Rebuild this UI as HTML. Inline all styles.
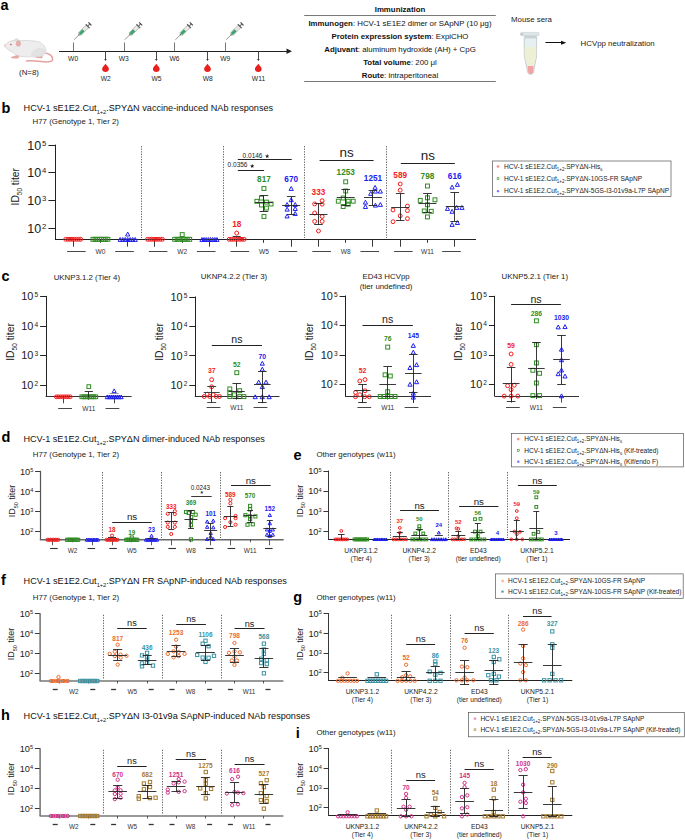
<!DOCTYPE html>
<html><head><meta charset="utf-8"><style>
html,body{margin:0;padding:0;background:#fff;}
svg{display:block;}
text{font-family:"Liberation Sans", sans-serif;}
</style></head><body>
<svg width="685" height="840" viewBox="0 0 685 840" font-family='"Liberation Sans", sans-serif'>
<rect width="685" height="840" fill="#fff"/>
<text x="0.60" y="10.40" font-size="14.5" font-weight="bold" fill="#000">a</text>
<g>
<path d="M43.5,52.5 C49,53.5 52.8,56 52.6,59.3 C52.4,62.3 47,62.2 41,61.4 C35,60.7 30.5,60.3 26.5,60.9" fill="none" stroke="#e2a3a0" stroke-width="1.5" stroke-linecap="round"/>
<path d="M32.5,54.8 C34,57.6 37.5,58.6 42,58.3 C43.2,57.4 42.6,55.4 40.4,54.6 Z" fill="#e5a9a5"/>
<path d="M4.5,45.6 C6,43.6 9,41.4 12.5,40.6 C15,40 17,40.2 19,40.8 C24,40.3 31,40.3 37.5,41.5 C42.5,42.8 45.6,46.5 45.8,50.5 C46,54.2 43,56.4 38,56.6 C32,56.9 25,57 19.5,56.3 C16.5,55.8 14.5,54 13,52.3 C10.5,51.2 8,49.8 6.5,48.2 C5.3,47.3 4.6,46.5 4.5,45.6 Z" fill="#ededed" stroke="#c9c9c9" stroke-width="0.6"/>
<path d="M31,55.8 C31.5,51 36,47.6 41.5,47.8 C44,48.6 45.6,50 45.8,51.5 C45.5,54.8 42.5,56.4 38,56.6 C35,56.7 32.5,56.6 31,55.8 Z" fill="#e2e2e2"/>
<path d="M11,57.2 C12.8,56 15.5,55.4 17.5,55.2 L19,55.8 L18.6,58.2 C16,58.7 13,58.6 11.2,58 Z" fill="#e5a9a5"/>
<ellipse cx="16.6" cy="39.9" rx="1.8" ry="1.5" fill="#e2e2e2" stroke="#cccccc" stroke-width="0.4"/>
<ellipse cx="18.4" cy="43.5" rx="2.2" ry="2.8" fill="#e7afac" stroke="#d39a97" stroke-width="0.4"/>
<circle cx="10.9" cy="44.5" r="0.75" fill="#cc3b3b"/>
<path d="M4.8,45.2 L3.6,41.8 M5.2,45.4 L2.6,44.0" stroke="#e4e4e4" stroke-width="0.35"/>
<circle cx="4.9" cy="45.7" r="0.7" fill="#e8b0ad"/>
</g>
<text x="29.00" y="74.50" font-size="7.9" text-anchor="middle" fill="#222">(N=8)</text>
<line x1="59.00" y1="51.50" x2="288.00" y2="51.50" stroke="#222" stroke-width="1.2"/>
<path d="M286.5,48.5 L292,51.2 L286.5,53.9 Z" fill="#222"/>
<line x1="73.50" y1="42.50" x2="73.50" y2="51.20" stroke="#777" stroke-width="1.0"/>
<text x="73.10" y="60.80" font-size="6.7" text-anchor="middle" fill="#222">W0</text>
<g transform="translate(74.10,39.7) rotate(-45)"><line x1="0" y1="0" x2="7" y2="0" stroke="#555" stroke-width="0.6"/><rect x="6.6" y="-0.9" width="1.4" height="1.8" fill="#777"/><rect x="7.8" y="-1.8" width="11" height="3.6" fill="#e8e8e8" stroke="#8a8a8a" stroke-width="0.5"/><rect x="8.1" y="-1.5" width="5.2" height="3" fill="#3aa56e"/><rect x="18.6" y="-2.7" width="1.1" height="5.4" fill="#555"/><rect x="19.6" y="-0.5" width="2.4" height="1" fill="#666"/><rect x="21.8" y="-2.1" width="1.2" height="4.2" fill="#444"/></g>
<line x1="124.50" y1="42.50" x2="124.50" y2="51.20" stroke="#777" stroke-width="1.0"/>
<text x="123.80" y="60.80" font-size="6.7" text-anchor="middle" fill="#222">W3</text>
<g transform="translate(124.80,39.7) rotate(-45)"><line x1="0" y1="0" x2="7" y2="0" stroke="#555" stroke-width="0.6"/><rect x="6.6" y="-0.9" width="1.4" height="1.8" fill="#777"/><rect x="7.8" y="-1.8" width="11" height="3.6" fill="#e8e8e8" stroke="#8a8a8a" stroke-width="0.5"/><rect x="8.1" y="-1.5" width="5.2" height="3" fill="#3aa56e"/><rect x="18.6" y="-2.7" width="1.1" height="5.4" fill="#555"/><rect x="19.6" y="-0.5" width="2.4" height="1" fill="#666"/><rect x="21.8" y="-2.1" width="1.2" height="4.2" fill="#444"/></g>
<line x1="174.50" y1="42.50" x2="174.50" y2="51.20" stroke="#777" stroke-width="1.0"/>
<text x="174.50" y="60.80" font-size="6.7" text-anchor="middle" fill="#222">W6</text>
<g transform="translate(175.50,39.7) rotate(-45)"><line x1="0" y1="0" x2="7" y2="0" stroke="#555" stroke-width="0.6"/><rect x="6.6" y="-0.9" width="1.4" height="1.8" fill="#777"/><rect x="7.8" y="-1.8" width="11" height="3.6" fill="#e8e8e8" stroke="#8a8a8a" stroke-width="0.5"/><rect x="8.1" y="-1.5" width="5.2" height="3" fill="#3aa56e"/><rect x="18.6" y="-2.7" width="1.1" height="5.4" fill="#555"/><rect x="19.6" y="-0.5" width="2.4" height="1" fill="#666"/><rect x="21.8" y="-2.1" width="1.2" height="4.2" fill="#444"/></g>
<line x1="225.50" y1="42.50" x2="225.50" y2="51.20" stroke="#777" stroke-width="1.0"/>
<text x="225.20" y="60.80" font-size="6.7" text-anchor="middle" fill="#222">W9</text>
<g transform="translate(226.20,39.7) rotate(-45)"><line x1="0" y1="0" x2="7" y2="0" stroke="#555" stroke-width="0.6"/><rect x="6.6" y="-0.9" width="1.4" height="1.8" fill="#777"/><rect x="7.8" y="-1.8" width="11" height="3.6" fill="#e8e8e8" stroke="#8a8a8a" stroke-width="0.5"/><rect x="8.1" y="-1.5" width="5.2" height="3" fill="#3aa56e"/><rect x="18.6" y="-2.7" width="1.1" height="5.4" fill="#555"/><rect x="19.6" y="-0.5" width="2.4" height="1" fill="#666"/><rect x="21.8" y="-2.1" width="1.2" height="4.2" fill="#444"/></g>
<line x1="105.50" y1="51.20" x2="105.50" y2="59.50" stroke="#333" stroke-width="0.9"/>
<path d="M104.20,59 L105.50,61 L106.80,59 Z" fill="#333"/>
<path d="M105.50,63.8 C107.00,66 108.90,67.5 108.90,69 C108.90,71 107.30,71.9 105.50,71.9 C103.70,71.9 102.10,71 102.10,69 C102.10,67.5 104.00,66 105.50,63.8 Z" fill="#e8201e"/>
<text x="105.70" y="81.00" font-size="6.7" text-anchor="middle" fill="#222">W2</text>
<line x1="156.50" y1="51.20" x2="156.50" y2="59.50" stroke="#333" stroke-width="0.9"/>
<path d="M155.00,59 L156.30,61 L157.60,59 Z" fill="#333"/>
<path d="M156.30,63.8 C157.80,66 159.70,67.5 159.70,69 C159.70,71 158.10,71.9 156.30,71.9 C154.50,71.9 152.90,71 152.90,69 C152.90,67.5 154.80,66 156.30,63.8 Z" fill="#e8201e"/>
<text x="156.50" y="81.00" font-size="6.7" text-anchor="middle" fill="#222">W5</text>
<line x1="207.50" y1="51.20" x2="207.50" y2="59.50" stroke="#333" stroke-width="0.9"/>
<path d="M206.20,59 L207.50,61 L208.80,59 Z" fill="#333"/>
<path d="M207.50,63.8 C209.00,66 210.90,67.5 210.90,69 C210.90,71 209.30,71.9 207.50,71.9 C205.70,71.9 204.10,71 204.10,69 C204.10,67.5 206.00,66 207.50,63.8 Z" fill="#e8201e"/>
<text x="207.70" y="81.00" font-size="6.7" text-anchor="middle" fill="#222">W8</text>
<line x1="258.50" y1="51.20" x2="258.50" y2="59.50" stroke="#333" stroke-width="0.9"/>
<path d="M257.00,59 L258.30,61 L259.60,59 Z" fill="#333"/>
<path d="M258.30,63.8 C259.80,66 261.70,67.5 261.70,69 C261.70,71 260.10,71.9 258.30,71.9 C256.50,71.9 254.90,71 254.90,69 C254.90,67.5 256.80,66 258.30,63.8 Z" fill="#e8201e"/>
<text x="258.50" y="81.00" font-size="6.7" text-anchor="middle" fill="#222">W11</text>
<line x1="304.20" y1="15.50" x2="495.80" y2="15.50" stroke="#555" stroke-width="0.8"/>
<line x1="304.20" y1="81.50" x2="495.80" y2="81.50" stroke="#555" stroke-width="0.8"/>
<text x="400.00" y="12.00" font-size="7.85" text-anchor="middle" fill="#111"><tspan font-weight="bold">Immunization</tspan></text>
<text x="400.00" y="25.50" font-size="7.85" text-anchor="middle" fill="#111"><tspan font-weight="bold">Immunogen</tspan>: HCV-1 sE1E2 dimer or SApNP (10 μg)</text>
<text x="400.00" y="38.70" font-size="7.85" text-anchor="middle" fill="#111"><tspan font-weight="bold">Protein expression system</tspan>: ExpiCHO</text>
<text x="400.00" y="51.80" font-size="7.85" text-anchor="middle" fill="#111"><tspan font-weight="bold">Adjuvant</tspan>: aluminum hydroxide (AH) + CpG</text>
<text x="400.00" y="65.00" font-size="7.85" text-anchor="middle" fill="#111"><tspan font-weight="bold">Total volume</tspan>: 200 μl</text>
<text x="400.00" y="78.10" font-size="7.85" text-anchor="middle" fill="#111"><tspan font-weight="bold">Route</tspan>: intraperitoneal</text>
<text x="511.00" y="22.20" font-size="7.85" fill="#222">Mouse sera</text>
<path d="M524.2,37.5 L536.7,37.5 L536.6,56 L533.4,72.6 C532.6,75 528.6,75 527.8,72.6 L524.3,56 Z" fill="#e6eff1" stroke="#a9b3b6" stroke-width="0.6"/>
<path d="M524.6,47 L536.3,47 L536.2,56 L533.7,66.2 L527.6,66.2 L524.7,56 Z" fill="#eef0d6"/>
<path d="M527.7,66.1 L533.6,66.1 L533.1,72.5 C532.4,74.4 528.9,74.4 528.2,72.5 Z" fill="#f2a3a3"/>
<rect x="524.2" y="35.6" width="12.5" height="2.8" fill="#c9d2d5"/>
<path d="M521.2,32.4 L538.6,32.4 C539.2,32.4 539.2,35.7 538.6,35.7 L521.2,35.7 C520.4,35.7 520.4,32.4 521.2,32.4 Z" fill="#dfe6e8" stroke="#b4bec1" stroke-width="0.4"/>
<ellipse cx="521.8" cy="34.2" rx="1.6" ry="1.1" fill="#c2cacc"/>
<line x1="545.40" y1="42.50" x2="562.00" y2="42.50" stroke="#111" stroke-width="1.0"/>
<path d="M561,40.7 L566.3,42.7 L561,44.7 Z" fill="#111"/>
<text x="580.60" y="46.00" font-size="7.85" fill="#222">HCVpp neutralization</text>
<text x="1.40" y="113.00" font-size="14.5" font-weight="bold" fill="#000">b</text>
<text x="23.60" y="111.20" font-size="9.15" fill="#111">HCV-1 sE1E2.Cut<tspan font-size="5.67" dy="2.75">1+2</tspan><tspan dy="-2.75">.SPYΔN vaccine-induced NAb responses</tspan></text>
<text x="32.60" y="123.90" font-size="7.85" fill="#222">H77 (Genotype 1, Tier 2)</text>
<line x1="48.40" y1="145.50" x2="55.40" y2="145.50" stroke="#222" stroke-width="1.0"/>
<text x="46.40" y="149.54" font-size="12.5" text-anchor="end" fill="#1a1a1a">10<tspan font-size="7.7" dx="1.0" dy="-3.75">5</tspan></text>
<line x1="48.40" y1="172.50" x2="55.40" y2="172.50" stroke="#222" stroke-width="1.0"/>
<text x="46.40" y="177.20" font-size="12.5" text-anchor="end" fill="#1a1a1a">10<tspan font-size="7.7" dx="1.0" dy="-3.75">4</tspan></text>
<line x1="48.40" y1="200.50" x2="55.40" y2="200.50" stroke="#222" stroke-width="1.0"/>
<text x="46.40" y="204.87" font-size="12.5" text-anchor="end" fill="#1a1a1a">10<tspan font-size="7.7" dx="1.0" dy="-3.75">3</tspan></text>
<line x1="48.40" y1="228.50" x2="55.40" y2="228.50" stroke="#222" stroke-width="1.0"/>
<text x="46.40" y="232.54" font-size="12.5" text-anchor="end" fill="#1a1a1a">10<tspan font-size="7.7" dx="1.0" dy="-3.75">2</tspan></text>
<text transform="translate(19.10,186.75) rotate(-90)" font-size="10.3" text-anchor="middle" fill="#1a1a1a">ID<tspan font-size="6.39" dy="2.88">50</tspan><tspan dy="-2.88"> titer</tspan></text>
<line x1="55.50" y1="144.60" x2="55.50" y2="239.30" stroke="#222" stroke-width="1.0"/>
<line x1="54.90" y1="239.50" x2="476.00" y2="239.50" stroke="#222" stroke-width="1.0"/>
<line x1="141.50" y1="146.00" x2="141.50" y2="238.00" stroke="#666" stroke-width="1.0" stroke-dasharray="1.3,1.3"/>
<line x1="223.50" y1="146.00" x2="223.50" y2="238.00" stroke="#666" stroke-width="1.0" stroke-dasharray="1.3,1.3"/>
<line x1="304.50" y1="146.00" x2="304.50" y2="238.00" stroke="#666" stroke-width="1.0" stroke-dasharray="1.3,1.3"/>
<line x1="386.50" y1="146.00" x2="386.50" y2="238.00" stroke="#666" stroke-width="1.0" stroke-dasharray="1.3,1.3"/>
<line x1="73.50" y1="239.30" x2="73.50" y2="246.70" stroke="#222" stroke-width="0.9"/>
<line x1="100.50" y1="239.30" x2="100.50" y2="242.80" stroke="#222" stroke-width="0.9"/>
<line x1="127.50" y1="239.30" x2="127.50" y2="246.70" stroke="#222" stroke-width="0.9"/>
<line x1="154.50" y1="239.30" x2="154.50" y2="246.70" stroke="#222" stroke-width="0.9"/>
<line x1="182.50" y1="239.30" x2="182.50" y2="242.80" stroke="#222" stroke-width="0.9"/>
<line x1="209.50" y1="239.30" x2="209.50" y2="246.70" stroke="#222" stroke-width="0.9"/>
<line x1="236.50" y1="239.30" x2="236.50" y2="246.70" stroke="#222" stroke-width="0.9"/>
<line x1="263.50" y1="239.30" x2="263.50" y2="242.80" stroke="#222" stroke-width="0.9"/>
<line x1="291.50" y1="239.30" x2="291.50" y2="246.70" stroke="#222" stroke-width="0.9"/>
<line x1="318.50" y1="239.30" x2="318.50" y2="246.70" stroke="#222" stroke-width="0.9"/>
<line x1="345.50" y1="239.30" x2="345.50" y2="242.80" stroke="#222" stroke-width="0.9"/>
<line x1="372.50" y1="239.30" x2="372.50" y2="246.70" stroke="#222" stroke-width="0.9"/>
<line x1="400.50" y1="239.30" x2="400.50" y2="246.70" stroke="#222" stroke-width="0.9"/>
<line x1="427.50" y1="239.30" x2="427.50" y2="242.80" stroke="#222" stroke-width="0.9"/>
<line x1="454.50" y1="239.30" x2="454.50" y2="246.70" stroke="#222" stroke-width="0.9"/>
<line x1="67.10" y1="251.50" x2="85.70" y2="251.50" stroke="#333" stroke-width="0.9"/>
<text x="100.45" y="253.88" font-size="6.6" text-anchor="middle" fill="#333">W0</text>
<line x1="115.20" y1="251.50" x2="133.80" y2="251.50" stroke="#333" stroke-width="0.9"/>
<line x1="148.85" y1="251.50" x2="167.45" y2="251.50" stroke="#333" stroke-width="0.9"/>
<text x="182.20" y="253.88" font-size="6.6" text-anchor="middle" fill="#333">W2</text>
<line x1="196.95" y1="251.50" x2="215.55" y2="251.50" stroke="#333" stroke-width="0.9"/>
<line x1="230.60" y1="251.50" x2="249.20" y2="251.50" stroke="#333" stroke-width="0.9"/>
<text x="263.95" y="253.88" font-size="6.6" text-anchor="middle" fill="#333">W5</text>
<line x1="278.70" y1="251.50" x2="297.30" y2="251.50" stroke="#333" stroke-width="0.9"/>
<line x1="312.35" y1="251.50" x2="330.95" y2="251.50" stroke="#333" stroke-width="0.9"/>
<text x="345.70" y="253.88" font-size="6.6" text-anchor="middle" fill="#333">W8</text>
<line x1="360.45" y1="251.50" x2="379.05" y2="251.50" stroke="#333" stroke-width="0.9"/>
<line x1="394.10" y1="251.50" x2="412.70" y2="251.50" stroke="#333" stroke-width="0.9"/>
<text x="427.45" y="253.88" font-size="6.6" text-anchor="middle" fill="#333">W11</text>
<line x1="442.20" y1="251.50" x2="460.80" y2="251.50" stroke="#333" stroke-width="0.9"/>
<circle cx="65.70" cy="239.30" r="1.95" fill="none" stroke="#f41c1c" stroke-width="1.0"/>
<circle cx="67.84" cy="239.30" r="1.95" fill="none" stroke="#f41c1c" stroke-width="1.0"/>
<circle cx="69.99" cy="239.30" r="1.95" fill="none" stroke="#f41c1c" stroke-width="1.0"/>
<circle cx="72.13" cy="239.30" r="1.95" fill="none" stroke="#f41c1c" stroke-width="1.0"/>
<circle cx="74.27" cy="239.30" r="1.95" fill="none" stroke="#f41c1c" stroke-width="1.0"/>
<circle cx="76.41" cy="239.30" r="1.95" fill="none" stroke="#f41c1c" stroke-width="1.0"/>
<circle cx="78.56" cy="239.30" r="1.95" fill="none" stroke="#f41c1c" stroke-width="1.0"/>
<circle cx="80.70" cy="239.30" r="1.95" fill="none" stroke="#f41c1c" stroke-width="1.0"/>
<rect x="91.00" y="237.35" width="3.90" height="3.90" fill="none" stroke="#2f8c22" stroke-width="1.0"/>
<rect x="93.14" y="237.35" width="3.90" height="3.90" fill="none" stroke="#2f8c22" stroke-width="1.0"/>
<rect x="95.29" y="237.35" width="3.90" height="3.90" fill="none" stroke="#2f8c22" stroke-width="1.0"/>
<rect x="97.43" y="237.35" width="3.90" height="3.90" fill="none" stroke="#2f8c22" stroke-width="1.0"/>
<rect x="99.57" y="237.35" width="3.90" height="3.90" fill="none" stroke="#2f8c22" stroke-width="1.0"/>
<rect x="101.71" y="237.35" width="3.90" height="3.90" fill="none" stroke="#2f8c22" stroke-width="1.0"/>
<rect x="103.86" y="237.35" width="3.90" height="3.90" fill="none" stroke="#2f8c22" stroke-width="1.0"/>
<rect x="106.00" y="237.35" width="3.90" height="3.90" fill="none" stroke="#2f8c22" stroke-width="1.0"/>
<path d="M120.20,237.50 L122.30,241.38 L118.10,241.38 Z" fill="none" stroke="#2020f0" stroke-width="1.0" stroke-linejoin="miter"/>
<path d="M122.70,237.50 L124.80,241.38 L120.60,241.38 Z" fill="none" stroke="#2020f0" stroke-width="1.0" stroke-linejoin="miter"/>
<path d="M125.20,237.50 L127.30,241.38 L123.10,241.38 Z" fill="none" stroke="#2020f0" stroke-width="1.0" stroke-linejoin="miter"/>
<path d="M127.70,237.50 L129.80,241.38 L125.60,241.38 Z" fill="none" stroke="#2020f0" stroke-width="1.0" stroke-linejoin="miter"/>
<path d="M130.20,237.50 L132.30,241.38 L128.10,241.38 Z" fill="none" stroke="#2020f0" stroke-width="1.0" stroke-linejoin="miter"/>
<path d="M132.70,237.50 L134.80,241.38 L130.60,241.38 Z" fill="none" stroke="#2020f0" stroke-width="1.0" stroke-linejoin="miter"/>
<path d="M135.20,237.50 L137.30,241.38 L133.10,241.38 Z" fill="none" stroke="#2020f0" stroke-width="1.0" stroke-linejoin="miter"/>
<path d="M127.70,232.09 L129.80,235.98 L125.60,235.98 Z" fill="none" stroke="#2020f0" stroke-width="1.0" stroke-linejoin="miter"/>
<circle cx="147.45" cy="239.30" r="1.95" fill="none" stroke="#f41c1c" stroke-width="1.0"/>
<circle cx="149.59" cy="239.30" r="1.95" fill="none" stroke="#f41c1c" stroke-width="1.0"/>
<circle cx="151.74" cy="239.30" r="1.95" fill="none" stroke="#f41c1c" stroke-width="1.0"/>
<circle cx="153.88" cy="239.30" r="1.95" fill="none" stroke="#f41c1c" stroke-width="1.0"/>
<circle cx="156.02" cy="239.30" r="1.95" fill="none" stroke="#f41c1c" stroke-width="1.0"/>
<circle cx="158.16" cy="239.30" r="1.95" fill="none" stroke="#f41c1c" stroke-width="1.0"/>
<circle cx="160.31" cy="239.30" r="1.95" fill="none" stroke="#f41c1c" stroke-width="1.0"/>
<circle cx="162.45" cy="239.30" r="1.95" fill="none" stroke="#f41c1c" stroke-width="1.0"/>
<rect x="172.75" y="237.35" width="3.90" height="3.90" fill="none" stroke="#2f8c22" stroke-width="1.0"/>
<rect x="175.25" y="237.35" width="3.90" height="3.90" fill="none" stroke="#2f8c22" stroke-width="1.0"/>
<rect x="177.75" y="237.35" width="3.90" height="3.90" fill="none" stroke="#2f8c22" stroke-width="1.0"/>
<rect x="180.25" y="237.35" width="3.90" height="3.90" fill="none" stroke="#2f8c22" stroke-width="1.0"/>
<rect x="182.75" y="237.35" width="3.90" height="3.90" fill="none" stroke="#2f8c22" stroke-width="1.0"/>
<rect x="185.25" y="237.35" width="3.90" height="3.90" fill="none" stroke="#2f8c22" stroke-width="1.0"/>
<rect x="187.75" y="237.35" width="3.90" height="3.90" fill="none" stroke="#2f8c22" stroke-width="1.0"/>
<rect x="180.25" y="232.65" width="3.90" height="3.90" fill="none" stroke="#2f8c22" stroke-width="1.0"/>
<path d="M201.95,237.50 L204.05,241.38 L199.85,241.38 Z" fill="none" stroke="#2020f0" stroke-width="1.0" stroke-linejoin="miter"/>
<path d="M204.09,237.50 L206.19,241.38 L201.99,241.38 Z" fill="none" stroke="#2020f0" stroke-width="1.0" stroke-linejoin="miter"/>
<path d="M206.24,237.50 L208.34,241.38 L204.14,241.38 Z" fill="none" stroke="#2020f0" stroke-width="1.0" stroke-linejoin="miter"/>
<path d="M208.38,237.50 L210.48,241.38 L206.28,241.38 Z" fill="none" stroke="#2020f0" stroke-width="1.0" stroke-linejoin="miter"/>
<path d="M210.52,237.50 L212.62,241.38 L208.42,241.38 Z" fill="none" stroke="#2020f0" stroke-width="1.0" stroke-linejoin="miter"/>
<path d="M212.66,237.50 L214.76,241.38 L210.56,241.38 Z" fill="none" stroke="#2020f0" stroke-width="1.0" stroke-linejoin="miter"/>
<path d="M214.81,237.50 L216.91,241.38 L212.71,241.38 Z" fill="none" stroke="#2020f0" stroke-width="1.0" stroke-linejoin="miter"/>
<path d="M216.95,237.50 L219.05,241.38 L214.85,241.38 Z" fill="none" stroke="#2020f0" stroke-width="1.0" stroke-linejoin="miter"/>
<circle cx="229.20" cy="239.30" r="1.95" fill="none" stroke="#f41c1c" stroke-width="1.0"/>
<circle cx="231.34" cy="239.30" r="1.95" fill="none" stroke="#f41c1c" stroke-width="1.0"/>
<circle cx="233.49" cy="239.30" r="1.95" fill="none" stroke="#f41c1c" stroke-width="1.0"/>
<circle cx="235.63" cy="239.30" r="1.95" fill="none" stroke="#f41c1c" stroke-width="1.0"/>
<circle cx="237.77" cy="239.30" r="1.95" fill="none" stroke="#f41c1c" stroke-width="1.0"/>
<circle cx="239.91" cy="239.30" r="1.95" fill="none" stroke="#f41c1c" stroke-width="1.0"/>
<circle cx="242.06" cy="239.30" r="1.95" fill="none" stroke="#f41c1c" stroke-width="1.0"/>
<circle cx="244.20" cy="239.30" r="1.95" fill="none" stroke="#f41c1c" stroke-width="1.0"/>
<circle cx="236.70" cy="233.10" r="1.95" fill="none" stroke="#f41c1c" stroke-width="1.0"/>
<line x1="232.70" y1="236.50" x2="240.70" y2="236.50" stroke="#222" stroke-width="0.9"/>
<text x="236.70" y="226.95" font-size="8.2" font-weight="bold" text-anchor="middle" fill="#f41c1c">18</text>
<rect x="262.00" y="186.55" width="3.90" height="3.90" fill="none" stroke="#2f8c22" stroke-width="1.0"/>
<rect x="254.90" y="199.35" width="3.90" height="3.90" fill="none" stroke="#2f8c22" stroke-width="1.0"/>
<rect x="259.50" y="196.15" width="3.90" height="3.90" fill="none" stroke="#2f8c22" stroke-width="1.0"/>
<rect x="264.50" y="200.15" width="3.90" height="3.90" fill="none" stroke="#2f8c22" stroke-width="1.0"/>
<rect x="259.50" y="203.05" width="3.90" height="3.90" fill="none" stroke="#2f8c22" stroke-width="1.0"/>
<rect x="264.50" y="206.15" width="3.90" height="3.90" fill="none" stroke="#2f8c22" stroke-width="1.0"/>
<rect x="269.10" y="202.05" width="3.90" height="3.90" fill="none" stroke="#2f8c22" stroke-width="1.0"/>
<rect x="262.00" y="214.55" width="3.90" height="3.90" fill="none" stroke="#2f8c22" stroke-width="1.0"/>
<line x1="254.95" y1="202.50" x2="272.95" y2="202.50" stroke="#222" stroke-width="0.9"/>
<line x1="263.50" y1="195.40" x2="263.50" y2="211.30" stroke="#222" stroke-width="0.9"/>
<line x1="259.65" y1="195.50" x2="268.25" y2="195.50" stroke="#222" stroke-width="0.9"/>
<line x1="259.65" y1="211.50" x2="268.25" y2="211.50" stroke="#222" stroke-width="0.9"/>
<text x="263.95" y="181.75" font-size="8.2" font-weight="bold" text-anchor="middle" fill="#2f8c22">817</text>
<path d="M291.20,186.54 L293.30,190.43 L289.10,190.43 Z" fill="none" stroke="#2020f0" stroke-width="1.0" stroke-linejoin="miter"/>
<path d="M291.20,197.79 L293.30,201.68 L289.10,201.68 Z" fill="none" stroke="#2020f0" stroke-width="1.0" stroke-linejoin="miter"/>
<path d="M287.10,202.54 L289.20,206.43 L285.00,206.43 Z" fill="none" stroke="#2020f0" stroke-width="1.0" stroke-linejoin="miter"/>
<path d="M295.20,202.54 L297.30,206.43 L293.10,206.43 Z" fill="none" stroke="#2020f0" stroke-width="1.0" stroke-linejoin="miter"/>
<path d="M287.10,207.19 L289.20,211.08 L285.00,211.08 Z" fill="none" stroke="#2020f0" stroke-width="1.0" stroke-linejoin="miter"/>
<path d="M295.20,206.54 L297.30,210.43 L293.10,210.43 Z" fill="none" stroke="#2020f0" stroke-width="1.0" stroke-linejoin="miter"/>
<path d="M287.10,214.04 L289.20,217.93 L285.00,217.93 Z" fill="none" stroke="#2020f0" stroke-width="1.0" stroke-linejoin="miter"/>
<path d="M295.20,211.54 L297.30,215.43 L293.10,215.43 Z" fill="none" stroke="#2020f0" stroke-width="1.0" stroke-linejoin="miter"/>
<line x1="282.20" y1="205.50" x2="300.20" y2="205.50" stroke="#222" stroke-width="0.9"/>
<line x1="291.50" y1="196.90" x2="291.50" y2="214.40" stroke="#222" stroke-width="0.9"/>
<line x1="286.90" y1="196.50" x2="295.50" y2="196.50" stroke="#222" stroke-width="0.9"/>
<line x1="286.90" y1="214.50" x2="295.50" y2="214.50" stroke="#222" stroke-width="0.9"/>
<text x="291.20" y="181.75" font-size="8.2" font-weight="bold" text-anchor="middle" fill="#2020f0">670</text>
<circle cx="322.15" cy="200.70" r="1.95" fill="none" stroke="#f41c1c" stroke-width="1.0"/>
<circle cx="314.65" cy="203.90" r="1.95" fill="none" stroke="#f41c1c" stroke-width="1.0"/>
<circle cx="322.15" cy="204.20" r="1.95" fill="none" stroke="#f41c1c" stroke-width="1.0"/>
<circle cx="314.65" cy="213.00" r="1.95" fill="none" stroke="#f41c1c" stroke-width="1.0"/>
<circle cx="322.15" cy="216.50" r="1.95" fill="none" stroke="#f41c1c" stroke-width="1.0"/>
<circle cx="314.65" cy="221.40" r="1.95" fill="none" stroke="#f41c1c" stroke-width="1.0"/>
<circle cx="322.15" cy="221.40" r="1.95" fill="none" stroke="#f41c1c" stroke-width="1.0"/>
<circle cx="318.45" cy="231.00" r="1.95" fill="none" stroke="#f41c1c" stroke-width="1.0"/>
<line x1="309.45" y1="214.50" x2="327.45" y2="214.50" stroke="#222" stroke-width="0.9"/>
<line x1="318.50" y1="203.30" x2="318.50" y2="224.90" stroke="#222" stroke-width="0.9"/>
<line x1="314.15" y1="203.50" x2="322.75" y2="203.50" stroke="#222" stroke-width="0.9"/>
<line x1="314.15" y1="224.50" x2="322.75" y2="224.50" stroke="#222" stroke-width="0.9"/>
<text x="318.45" y="195.45" font-size="8.2" font-weight="bold" text-anchor="middle" fill="#f41c1c">333</text>
<rect x="343.75" y="179.85" width="3.90" height="3.90" fill="none" stroke="#2f8c22" stroke-width="1.0"/>
<rect x="343.75" y="189.05" width="3.90" height="3.90" fill="none" stroke="#2f8c22" stroke-width="1.0"/>
<rect x="336.35" y="199.25" width="3.90" height="3.90" fill="none" stroke="#2f8c22" stroke-width="1.0"/>
<rect x="341.25" y="196.05" width="3.90" height="3.90" fill="none" stroke="#2f8c22" stroke-width="1.0"/>
<rect x="346.25" y="199.25" width="3.90" height="3.90" fill="none" stroke="#2f8c22" stroke-width="1.0"/>
<rect x="351.25" y="199.25" width="3.90" height="3.90" fill="none" stroke="#2f8c22" stroke-width="1.0"/>
<rect x="341.25" y="204.55" width="3.90" height="3.90" fill="none" stroke="#2f8c22" stroke-width="1.0"/>
<rect x="346.25" y="202.25" width="3.90" height="3.90" fill="none" stroke="#2f8c22" stroke-width="1.0"/>
<line x1="336.70" y1="197.50" x2="354.70" y2="197.50" stroke="#222" stroke-width="0.9"/>
<line x1="345.50" y1="189.80" x2="345.50" y2="205.50" stroke="#222" stroke-width="0.9"/>
<line x1="341.40" y1="189.50" x2="350.00" y2="189.50" stroke="#222" stroke-width="0.9"/>
<line x1="341.40" y1="205.50" x2="350.00" y2="205.50" stroke="#222" stroke-width="0.9"/>
<text x="345.70" y="175.25" font-size="8.2" font-weight="bold" text-anchor="middle" fill="#2f8c22">1253</text>
<path d="M375.05,185.39 L377.15,189.28 L372.95,189.28 Z" fill="none" stroke="#2020f0" stroke-width="1.0" stroke-linejoin="miter"/>
<path d="M370.75,191.49 L372.85,195.38 L368.65,195.38 Z" fill="none" stroke="#2020f0" stroke-width="1.0" stroke-linejoin="miter"/>
<path d="M380.35,189.19 L382.45,193.08 L378.25,193.08 Z" fill="none" stroke="#2020f0" stroke-width="1.0" stroke-linejoin="miter"/>
<path d="M375.45,189.19 L377.55,193.08 L373.35,193.08 Z" fill="none" stroke="#2020f0" stroke-width="1.0" stroke-linejoin="miter"/>
<path d="M365.45,200.19 L367.55,204.08 L363.35,204.08 Z" fill="none" stroke="#2020f0" stroke-width="1.0" stroke-linejoin="miter"/>
<path d="M365.45,204.59 L367.55,208.48 L363.35,208.48 Z" fill="none" stroke="#2020f0" stroke-width="1.0" stroke-linejoin="miter"/>
<path d="M375.45,203.19 L377.55,207.08 L373.35,207.08 Z" fill="none" stroke="#2020f0" stroke-width="1.0" stroke-linejoin="miter"/>
<path d="M380.35,202.49 L382.45,206.38 L378.25,206.38 Z" fill="none" stroke="#2020f0" stroke-width="1.0" stroke-linejoin="miter"/>
<line x1="363.95" y1="197.50" x2="381.95" y2="197.50" stroke="#222" stroke-width="0.9"/>
<line x1="372.50" y1="190.70" x2="372.50" y2="205.40" stroke="#222" stroke-width="0.9"/>
<line x1="368.65" y1="190.50" x2="377.25" y2="190.50" stroke="#222" stroke-width="0.9"/>
<line x1="368.65" y1="205.50" x2="377.25" y2="205.50" stroke="#222" stroke-width="0.9"/>
<text x="372.95" y="180.85" font-size="8.2" font-weight="bold" text-anchor="middle" fill="#2020f0">1251</text>
<circle cx="400.20" cy="184.00" r="1.95" fill="none" stroke="#f41c1c" stroke-width="1.0"/>
<circle cx="400.20" cy="190.20" r="1.95" fill="none" stroke="#f41c1c" stroke-width="1.0"/>
<circle cx="407.40" cy="206.10" r="1.95" fill="none" stroke="#f41c1c" stroke-width="1.0"/>
<circle cx="393.00" cy="210.00" r="1.95" fill="none" stroke="#f41c1c" stroke-width="1.0"/>
<circle cx="407.40" cy="210.60" r="1.95" fill="none" stroke="#f41c1c" stroke-width="1.0"/>
<circle cx="400.20" cy="215.80" r="1.95" fill="none" stroke="#f41c1c" stroke-width="1.0"/>
<circle cx="393.00" cy="221.70" r="1.95" fill="none" stroke="#f41c1c" stroke-width="1.0"/>
<circle cx="407.40" cy="218.60" r="1.95" fill="none" stroke="#f41c1c" stroke-width="1.0"/>
<line x1="391.20" y1="207.50" x2="409.20" y2="207.50" stroke="#222" stroke-width="0.9"/>
<line x1="400.50" y1="193.60" x2="400.50" y2="220.10" stroke="#222" stroke-width="0.9"/>
<line x1="395.90" y1="193.50" x2="404.50" y2="193.50" stroke="#222" stroke-width="0.9"/>
<line x1="395.90" y1="220.50" x2="404.50" y2="220.50" stroke="#222" stroke-width="0.9"/>
<text x="400.20" y="178.45" font-size="8.2" font-weight="bold" text-anchor="middle" fill="#f41c1c">589</text>
<rect x="425.50" y="184.05" width="3.90" height="3.90" fill="none" stroke="#2f8c22" stroke-width="1.0"/>
<rect x="418.30" y="198.45" width="3.90" height="3.90" fill="none" stroke="#2f8c22" stroke-width="1.0"/>
<rect x="433.00" y="197.85" width="3.90" height="3.90" fill="none" stroke="#2f8c22" stroke-width="1.0"/>
<rect x="425.50" y="195.85" width="3.90" height="3.90" fill="none" stroke="#2f8c22" stroke-width="1.0"/>
<rect x="425.50" y="202.85" width="3.90" height="3.90" fill="none" stroke="#2f8c22" stroke-width="1.0"/>
<rect x="422.30" y="209.05" width="3.90" height="3.90" fill="none" stroke="#2f8c22" stroke-width="1.0"/>
<rect x="429.30" y="209.35" width="3.90" height="3.90" fill="none" stroke="#2f8c22" stroke-width="1.0"/>
<rect x="425.50" y="214.95" width="3.90" height="3.90" fill="none" stroke="#2f8c22" stroke-width="1.0"/>
<line x1="418.45" y1="203.50" x2="436.45" y2="203.50" stroke="#222" stroke-width="0.9"/>
<line x1="427.50" y1="193.90" x2="427.50" y2="212.70" stroke="#222" stroke-width="0.9"/>
<line x1="423.15" y1="193.50" x2="431.75" y2="193.50" stroke="#222" stroke-width="0.9"/>
<line x1="423.15" y1="212.50" x2="431.75" y2="212.50" stroke="#222" stroke-width="0.9"/>
<text x="427.45" y="179.05" font-size="8.2" font-weight="bold" text-anchor="middle" fill="#2f8c22">798</text>
<path d="M452.10,185.09 L454.20,188.98 L450.00,188.98 Z" fill="none" stroke="#2020f0" stroke-width="1.0" stroke-linejoin="miter"/>
<path d="M457.40,182.49 L459.50,186.38 L455.30,186.38 Z" fill="none" stroke="#2020f0" stroke-width="1.0" stroke-linejoin="miter"/>
<path d="M447.50,206.49 L449.60,210.38 L445.40,210.38 Z" fill="none" stroke="#2020f0" stroke-width="1.0" stroke-linejoin="miter"/>
<path d="M452.10,209.39 L454.20,213.28 L450.00,213.28 Z" fill="none" stroke="#2020f0" stroke-width="1.0" stroke-linejoin="miter"/>
<path d="M456.70,205.49 L458.80,209.38 L454.60,209.38 Z" fill="none" stroke="#2020f0" stroke-width="1.0" stroke-linejoin="miter"/>
<path d="M462.00,205.49 L464.10,209.38 L459.90,209.38 Z" fill="none" stroke="#2020f0" stroke-width="1.0" stroke-linejoin="miter"/>
<path d="M452.10,222.49 L454.20,226.38 L450.00,226.38 Z" fill="none" stroke="#2020f0" stroke-width="1.0" stroke-linejoin="miter"/>
<path d="M457.40,220.59 L459.50,224.48 L455.30,224.48 Z" fill="none" stroke="#2020f0" stroke-width="1.0" stroke-linejoin="miter"/>
<line x1="445.70" y1="206.50" x2="463.70" y2="206.50" stroke="#222" stroke-width="0.9"/>
<line x1="454.50" y1="192.30" x2="454.50" y2="221.20" stroke="#222" stroke-width="0.9"/>
<line x1="450.40" y1="192.50" x2="459.00" y2="192.50" stroke="#222" stroke-width="0.9"/>
<line x1="450.40" y1="221.50" x2="459.00" y2="221.50" stroke="#222" stroke-width="0.9"/>
<text x="454.70" y="179.45" font-size="8.2" font-weight="bold" text-anchor="middle" fill="#2020f0">616</text>
<line x1="237.80" y1="159.50" x2="291.70" y2="159.50" stroke="#222" stroke-width="1.0"/>
<text x="242.60" y="157.70" font-size="6.5" fill="#222">0.0146</text>
<polygon points="267.20,154.10 267.78,155.50 269.29,155.62 268.14,156.61 268.49,158.08 267.20,157.29 265.91,158.08 266.26,156.61 265.11,155.62 266.62,155.50" fill="#222"/>
<line x1="237.80" y1="170.50" x2="264.10" y2="170.50" stroke="#222" stroke-width="1.0"/>
<text x="227.60" y="166.90" font-size="6.5" fill="#222">0.0356</text>
<polygon points="252.20,163.90 252.78,165.30 254.29,165.42 253.14,166.41 253.49,167.88 252.20,167.09 250.91,167.88 251.26,166.41 250.11,165.42 251.62,165.30" fill="#222"/>
<line x1="319.60" y1="160.50" x2="373.60" y2="160.50" stroke="#222" stroke-width="1.0"/>
<text x="346.60" y="157.40" font-size="13.5" text-anchor="middle" fill="#222">ns</text>
<line x1="400.80" y1="163.50" x2="454.90" y2="163.50" stroke="#222" stroke-width="1.0"/>
<text x="427.85" y="160.40" font-size="13.5" text-anchor="middle" fill="#222">ns</text>
<rect x="492.60" y="161.00" width="178.40" height="35.40" fill="none" stroke="#555" stroke-width="0.7"/>
<circle cx="498.00" cy="166.50" r="0.88" fill="none" stroke="#f41c1c" stroke-width="0.6"/>
<text x="504.00" y="168.88" font-size="6.6" fill="#222">HCV-1 sE1E2.Cut<tspan font-size="4.49" dy="1.98">1+2</tspan><tspan dy="-1.98">.SPYΔN-His<tspan font-size="4.1" dy="1.9">6</tspan></tspan></text>
<rect x="497.12" y="177.72" width="1.75" height="1.75" fill="none" stroke="#2f8c22" stroke-width="0.6"/>
<text x="504.00" y="180.98" font-size="6.6" fill="#222">HCV-1 sE1E2.Cut<tspan font-size="4.49" dy="1.98">1+2</tspan><tspan dy="-1.98">.SPYΔN-10GS-FR SApNP</tspan></text>
<path d="M498.00,190.01 L498.94,191.76 L497.06,191.76 Z" fill="none" stroke="#2020f0" stroke-width="0.6" stroke-linejoin="miter"/>
<text x="504.00" y="193.38" font-size="6.6" fill="#222">HCV-1 sE1E2.Cut<tspan font-size="4.49" dy="1.98">1+2</tspan><tspan dy="-1.98">.SPYΔN-5GS-I3-01v9a-L7P SApNP</tspan></text>
<text x="1.60" y="281.00" font-size="14.5" font-weight="bold" fill="#000">c</text>
<line x1="40.10" y1="296.50" x2="46.10" y2="296.50" stroke="#222" stroke-width="1.0"/>
<text x="38.10" y="300.27" font-size="10.9" text-anchor="end" fill="#1a1a1a">10<tspan font-size="6.6" dx="1.0" dy="-3.27">5</tspan></text>
<line x1="40.10" y1="326.50" x2="46.10" y2="326.50" stroke="#222" stroke-width="1.0"/>
<text x="38.10" y="329.87" font-size="10.9" text-anchor="end" fill="#1a1a1a">10<tspan font-size="6.6" dx="1.0" dy="-3.27">4</tspan></text>
<line x1="40.10" y1="355.50" x2="46.10" y2="355.50" stroke="#222" stroke-width="1.0"/>
<text x="38.10" y="359.47" font-size="10.9" text-anchor="end" fill="#1a1a1a">10<tspan font-size="6.6" dx="1.0" dy="-3.27">3</tspan></text>
<line x1="40.10" y1="385.50" x2="46.10" y2="385.50" stroke="#222" stroke-width="1.0"/>
<text x="38.10" y="389.07" font-size="10.9" text-anchor="end" fill="#1a1a1a">10<tspan font-size="6.6" dx="1.0" dy="-3.27">2</tspan></text>
<text transform="translate(13.60,341.90) rotate(-90)" font-size="10.4" text-anchor="middle" fill="#1a1a1a">ID<tspan font-size="6.45" dy="2.91">50</tspan><tspan dy="-2.91"> titer</tspan></text>
<line x1="46.50" y1="295.90" x2="46.50" y2="396.80" stroke="#222" stroke-width="1.0"/>
<line x1="45.60" y1="396.50" x2="131.60" y2="396.50" stroke="#333" stroke-width="1.0"/>
<text x="86.85" y="279.60" font-size="7.85" text-anchor="middle" fill="#222">UKNP3.1.2 (Tier 4)</text>
<line x1="63.50" y1="396.80" x2="63.50" y2="403.30" stroke="#333" stroke-width="0.9"/>
<line x1="88.50" y1="396.80" x2="88.50" y2="399.80" stroke="#333" stroke-width="0.9"/>
<line x1="114.50" y1="396.80" x2="114.50" y2="403.30" stroke="#333" stroke-width="0.9"/>
<circle cx="56.30" cy="396.80" r="1.85" fill="none" stroke="#f41c1c" stroke-width="1.0"/>
<circle cx="58.30" cy="396.80" r="1.85" fill="none" stroke="#f41c1c" stroke-width="1.0"/>
<circle cx="60.30" cy="396.80" r="1.85" fill="none" stroke="#f41c1c" stroke-width="1.0"/>
<circle cx="62.30" cy="396.80" r="1.85" fill="none" stroke="#f41c1c" stroke-width="1.0"/>
<circle cx="64.30" cy="396.80" r="1.85" fill="none" stroke="#f41c1c" stroke-width="1.0"/>
<circle cx="66.30" cy="396.80" r="1.85" fill="none" stroke="#f41c1c" stroke-width="1.0"/>
<circle cx="68.30" cy="396.80" r="1.85" fill="none" stroke="#f41c1c" stroke-width="1.0"/>
<circle cx="70.30" cy="396.80" r="1.85" fill="none" stroke="#f41c1c" stroke-width="1.0"/>
<rect x="79.95" y="394.95" width="3.70" height="3.70" fill="none" stroke="#2f8c22" stroke-width="1.0"/>
<rect x="81.95" y="394.95" width="3.70" height="3.70" fill="none" stroke="#2f8c22" stroke-width="1.0"/>
<rect x="83.95" y="394.95" width="3.70" height="3.70" fill="none" stroke="#2f8c22" stroke-width="1.0"/>
<rect x="85.95" y="394.95" width="3.70" height="3.70" fill="none" stroke="#2f8c22" stroke-width="1.0"/>
<rect x="87.95" y="394.95" width="3.70" height="3.70" fill="none" stroke="#2f8c22" stroke-width="1.0"/>
<rect x="89.95" y="394.95" width="3.70" height="3.70" fill="none" stroke="#2f8c22" stroke-width="1.0"/>
<rect x="91.95" y="394.95" width="3.70" height="3.70" fill="none" stroke="#2f8c22" stroke-width="1.0"/>
<rect x="93.95" y="394.95" width="3.70" height="3.70" fill="none" stroke="#2f8c22" stroke-width="1.0"/>
<rect x="86.95" y="384.75" width="3.70" height="3.70" fill="none" stroke="#2f8c22" stroke-width="1.0"/>
<line x1="84.70" y1="391.50" x2="92.90" y2="391.50" stroke="#222" stroke-width="0.9"/>
<line x1="88.50" y1="391.60" x2="88.50" y2="396.80" stroke="#222" stroke-width="0.9"/>
<line x1="88.80" y1="391.50" x2="88.80" y2="391.50" stroke="#222" stroke-width="0.9"/>
<line x1="88.80" y1="396.50" x2="88.80" y2="396.50" stroke="#222" stroke-width="0.9"/>
<path d="M107.20,395.01 L109.20,398.70 L105.20,398.70 Z" fill="none" stroke="#2020f0" stroke-width="1.0" stroke-linejoin="miter"/>
<path d="M109.20,395.01 L111.20,398.70 L107.20,398.70 Z" fill="none" stroke="#2020f0" stroke-width="1.0" stroke-linejoin="miter"/>
<path d="M111.20,395.01 L113.20,398.70 L109.20,398.70 Z" fill="none" stroke="#2020f0" stroke-width="1.0" stroke-linejoin="miter"/>
<path d="M113.20,395.01 L115.20,398.70 L111.20,398.70 Z" fill="none" stroke="#2020f0" stroke-width="1.0" stroke-linejoin="miter"/>
<path d="M115.20,395.01 L117.20,398.70 L113.20,398.70 Z" fill="none" stroke="#2020f0" stroke-width="1.0" stroke-linejoin="miter"/>
<path d="M117.20,395.01 L119.20,398.70 L115.20,398.70 Z" fill="none" stroke="#2020f0" stroke-width="1.0" stroke-linejoin="miter"/>
<path d="M119.20,395.01 L121.20,398.70 L117.20,398.70 Z" fill="none" stroke="#2020f0" stroke-width="1.0" stroke-linejoin="miter"/>
<path d="M121.20,395.01 L123.20,398.70 L119.20,398.70 Z" fill="none" stroke="#2020f0" stroke-width="1.0" stroke-linejoin="miter"/>
<path d="M114.20,388.91 L116.20,392.60 L112.20,392.60 Z" fill="none" stroke="#2020f0" stroke-width="1.0" stroke-linejoin="miter"/>
<line x1="109.70" y1="393.50" x2="118.70" y2="393.50" stroke="#888" stroke-width="0.9"/>
<line x1="58.20" y1="408.50" x2="72.00" y2="408.50" stroke="#333" stroke-width="0.9"/>
<text x="88.80" y="410.68" font-size="6.6" text-anchor="middle" fill="#333">W11</text>
<line x1="105.50" y1="408.50" x2="119.30" y2="408.50" stroke="#333" stroke-width="0.9"/>
<line x1="189.30" y1="297.50" x2="195.30" y2="297.50" stroke="#222" stroke-width="1.0"/>
<text x="187.30" y="300.87" font-size="10.9" text-anchor="end" fill="#1a1a1a">10<tspan font-size="6.6" dx="1.0" dy="-3.27">5</tspan></text>
<line x1="189.30" y1="326.50" x2="195.30" y2="326.50" stroke="#222" stroke-width="1.0"/>
<text x="187.30" y="330.27" font-size="10.9" text-anchor="end" fill="#1a1a1a">10<tspan font-size="6.6" dx="1.0" dy="-3.27">4</tspan></text>
<line x1="189.30" y1="355.50" x2="195.30" y2="355.50" stroke="#222" stroke-width="1.0"/>
<text x="187.30" y="359.67" font-size="10.9" text-anchor="end" fill="#1a1a1a">10<tspan font-size="6.6" dx="1.0" dy="-3.27">3</tspan></text>
<line x1="189.30" y1="385.50" x2="195.30" y2="385.50" stroke="#222" stroke-width="1.0"/>
<text x="187.30" y="389.07" font-size="10.9" text-anchor="end" fill="#1a1a1a">10<tspan font-size="6.6" dx="1.0" dy="-3.27">2</tspan></text>
<text transform="translate(162.80,341.90) rotate(-90)" font-size="10.4" text-anchor="middle" fill="#1a1a1a">ID<tspan font-size="6.45" dy="2.91">50</tspan><tspan dy="-2.91"> titer</tspan></text>
<line x1="195.50" y1="296.50" x2="195.50" y2="396.60" stroke="#222" stroke-width="1.0"/>
<line x1="194.80" y1="396.50" x2="279.50" y2="396.50" stroke="#333" stroke-width="1.0"/>
<text x="234.00" y="279.30" font-size="7.85" text-anchor="middle" fill="#222">UKNP4.2.2 (Tier 3)</text>
<line x1="211.50" y1="396.60" x2="211.50" y2="403.10" stroke="#333" stroke-width="0.9"/>
<line x1="236.50" y1="396.60" x2="236.50" y2="399.60" stroke="#333" stroke-width="0.9"/>
<line x1="262.50" y1="396.60" x2="262.50" y2="403.10" stroke="#333" stroke-width="0.9"/>
<circle cx="211.70" cy="379.70" r="1.95" fill="none" stroke="#f41c1c" stroke-width="1.0"/>
<circle cx="211.70" cy="386.80" r="1.95" fill="none" stroke="#f41c1c" stroke-width="1.0"/>
<circle cx="204.20" cy="396.50" r="1.95" fill="none" stroke="#f41c1c" stroke-width="1.0"/>
<circle cx="207.20" cy="394.20" r="1.95" fill="none" stroke="#f41c1c" stroke-width="1.0"/>
<circle cx="209.70" cy="396.50" r="1.95" fill="none" stroke="#f41c1c" stroke-width="1.0"/>
<circle cx="213.20" cy="394.60" r="1.95" fill="none" stroke="#f41c1c" stroke-width="1.0"/>
<circle cx="216.20" cy="396.50" r="1.95" fill="none" stroke="#f41c1c" stroke-width="1.0"/>
<circle cx="219.50" cy="396.50" r="1.95" fill="none" stroke="#f41c1c" stroke-width="1.0"/>
<line x1="203.70" y1="392.50" x2="219.70" y2="392.50" stroke="#333" stroke-width="0.9"/>
<line x1="211.50" y1="386.50" x2="211.50" y2="402.30" stroke="#333" stroke-width="0.9"/>
<line x1="207.20" y1="386.50" x2="216.20" y2="386.50" stroke="#333" stroke-width="0.9"/>
<line x1="207.20" y1="402.50" x2="216.20" y2="402.50" stroke="#333" stroke-width="0.9"/>
<text x="211.70" y="373.15" font-size="6.8" font-weight="bold" text-anchor="middle" fill="#f41c1c">37</text>
<rect x="234.85" y="370.75" width="3.90" height="3.90" fill="none" stroke="#2f8c22" stroke-width="1.0"/>
<rect x="227.85" y="386.95" width="3.90" height="3.90" fill="none" stroke="#2f8c22" stroke-width="1.0"/>
<rect x="227.85" y="390.85" width="3.90" height="3.90" fill="none" stroke="#2f8c22" stroke-width="1.0"/>
<rect x="227.85" y="394.65" width="3.90" height="3.90" fill="none" stroke="#2f8c22" stroke-width="1.0"/>
<rect x="232.45" y="392.85" width="3.90" height="3.90" fill="none" stroke="#2f8c22" stroke-width="1.0"/>
<rect x="237.75" y="388.75" width="3.90" height="3.90" fill="none" stroke="#2f8c22" stroke-width="1.0"/>
<rect x="237.75" y="394.65" width="3.90" height="3.90" fill="none" stroke="#2f8c22" stroke-width="1.0"/>
<rect x="241.95" y="394.65" width="3.90" height="3.90" fill="none" stroke="#2f8c22" stroke-width="1.0"/>
<line x1="228.80" y1="391.50" x2="244.80" y2="391.50" stroke="#222" stroke-width="0.9"/>
<line x1="236.50" y1="383.50" x2="236.50" y2="398.30" stroke="#222" stroke-width="0.9"/>
<line x1="232.50" y1="383.50" x2="241.10" y2="383.50" stroke="#222" stroke-width="0.9"/>
<line x1="232.50" y1="398.50" x2="241.10" y2="398.50" stroke="#222" stroke-width="0.9"/>
<text x="236.80" y="367.05" font-size="6.8" font-weight="bold" text-anchor="middle" fill="#2f8c22">52</text>
<path d="M262.30,361.30 L264.40,365.18 L260.20,365.18 Z" fill="none" stroke="#2020f0" stroke-width="1.0" stroke-linejoin="miter"/>
<path d="M262.30,367.19 L264.40,371.08 L260.20,371.08 Z" fill="none" stroke="#2020f0" stroke-width="1.0" stroke-linejoin="miter"/>
<path d="M258.70,380.10 L260.80,383.98 L256.60,383.98 Z" fill="none" stroke="#2020f0" stroke-width="1.0" stroke-linejoin="miter"/>
<path d="M266.00,380.10 L268.10,383.98 L263.90,383.98 Z" fill="none" stroke="#2020f0" stroke-width="1.0" stroke-linejoin="miter"/>
<path d="M262.30,384.69 L264.40,388.58 L260.20,388.58 Z" fill="none" stroke="#2020f0" stroke-width="1.0" stroke-linejoin="miter"/>
<path d="M255.20,394.80 L257.30,398.68 L253.10,398.68 Z" fill="none" stroke="#2020f0" stroke-width="1.0" stroke-linejoin="miter"/>
<path d="M262.30,394.80 L264.40,398.68 L260.20,398.68 Z" fill="none" stroke="#2020f0" stroke-width="1.0" stroke-linejoin="miter"/>
<path d="M269.20,394.80 L271.30,398.68 L267.10,398.68 Z" fill="none" stroke="#2020f0" stroke-width="1.0" stroke-linejoin="miter"/>
<line x1="254.00" y1="384.50" x2="270.60" y2="384.50" stroke="#222" stroke-width="0.9"/>
<line x1="262.50" y1="371.50" x2="262.50" y2="402.30" stroke="#222" stroke-width="0.9"/>
<line x1="258.00" y1="371.50" x2="266.60" y2="371.50" stroke="#222" stroke-width="0.9"/>
<line x1="258.00" y1="402.50" x2="266.60" y2="402.50" stroke="#222" stroke-width="0.9"/>
<text x="262.30" y="359.15" font-size="6.8" font-weight="bold" text-anchor="middle" fill="#2020f0">70</text>
<line x1="211.80" y1="345.50" x2="262.00" y2="345.50" stroke="#222" stroke-width="1.0"/>
<text x="236.90" y="343.40" font-size="10.6" text-anchor="middle" fill="#222">ns</text>
<line x1="206.60" y1="407.50" x2="220.40" y2="407.50" stroke="#333" stroke-width="0.9"/>
<text x="236.80" y="409.88" font-size="6.6" text-anchor="middle" fill="#333">W11</text>
<line x1="253.60" y1="407.50" x2="267.40" y2="407.50" stroke="#333" stroke-width="0.9"/>
<line x1="339.60" y1="296.50" x2="345.60" y2="296.50" stroke="#222" stroke-width="1.0"/>
<text x="337.60" y="299.87" font-size="10.9" text-anchor="end" fill="#1a1a1a">10<tspan font-size="6.6" dx="1.0" dy="-3.27">5</tspan></text>
<line x1="339.60" y1="325.50" x2="345.60" y2="325.50" stroke="#222" stroke-width="1.0"/>
<text x="337.60" y="329.40" font-size="10.9" text-anchor="end" fill="#1a1a1a">10<tspan font-size="6.6" dx="1.0" dy="-3.27">4</tspan></text>
<line x1="339.60" y1="355.50" x2="345.60" y2="355.50" stroke="#222" stroke-width="1.0"/>
<text x="337.60" y="358.94" font-size="10.9" text-anchor="end" fill="#1a1a1a">10<tspan font-size="6.6" dx="1.0" dy="-3.27">3</tspan></text>
<line x1="339.60" y1="384.50" x2="345.60" y2="384.50" stroke="#222" stroke-width="1.0"/>
<text x="337.60" y="388.47" font-size="10.9" text-anchor="end" fill="#1a1a1a">10<tspan font-size="6.6" dx="1.0" dy="-3.27">2</tspan></text>
<text transform="translate(313.10,341.90) rotate(-90)" font-size="10.4" text-anchor="middle" fill="#1a1a1a">ID<tspan font-size="6.45" dy="2.91">50</tspan><tspan dy="-2.91"> titer</tspan></text>
<line x1="345.50" y1="295.50" x2="345.50" y2="396.50" stroke="#222" stroke-width="1.0"/>
<line x1="345.10" y1="396.50" x2="431.00" y2="396.50" stroke="#333" stroke-width="1.0"/>
<text x="386.10" y="279.30" font-size="7.85" text-anchor="middle" fill="#222">ED43 HCVpp</text>
<text x="386.10" y="288.90" font-size="7.85" text-anchor="middle" fill="#222">(tier undefined)</text>
<line x1="362.50" y1="396.50" x2="362.50" y2="403.00" stroke="#333" stroke-width="0.9"/>
<line x1="387.50" y1="396.50" x2="387.50" y2="399.50" stroke="#333" stroke-width="0.9"/>
<line x1="413.50" y1="396.50" x2="413.50" y2="403.00" stroke="#333" stroke-width="0.9"/>
<circle cx="359.80" cy="381.00" r="1.95" fill="none" stroke="#f41c1c" stroke-width="1.0"/>
<circle cx="365.00" cy="379.60" r="1.95" fill="none" stroke="#f41c1c" stroke-width="1.0"/>
<circle cx="355.50" cy="392.50" r="1.95" fill="none" stroke="#f41c1c" stroke-width="1.0"/>
<circle cx="365.00" cy="390.80" r="1.95" fill="none" stroke="#f41c1c" stroke-width="1.0"/>
<circle cx="359.80" cy="394.70" r="1.95" fill="none" stroke="#f41c1c" stroke-width="1.0"/>
<circle cx="355.50" cy="396.70" r="1.95" fill="none" stroke="#f41c1c" stroke-width="1.0"/>
<circle cx="364.70" cy="396.70" r="1.95" fill="none" stroke="#f41c1c" stroke-width="1.0"/>
<circle cx="369.30" cy="396.70" r="1.95" fill="none" stroke="#f41c1c" stroke-width="1.0"/>
<line x1="354.50" y1="390.50" x2="370.50" y2="390.50" stroke="#222" stroke-width="0.9"/>
<line x1="362.50" y1="384.60" x2="362.50" y2="402.60" stroke="#222" stroke-width="0.9"/>
<line x1="358.20" y1="384.50" x2="366.80" y2="384.50" stroke="#222" stroke-width="0.9"/>
<line x1="358.20" y1="402.50" x2="366.80" y2="402.50" stroke="#222" stroke-width="0.9"/>
<text x="362.50" y="372.85" font-size="6.8" font-weight="bold" text-anchor="middle" fill="#f41c1c">52</text>
<rect x="385.75" y="345.15" width="3.90" height="3.90" fill="none" stroke="#2f8c22" stroke-width="1.0"/>
<rect x="383.15" y="372.85" width="3.90" height="3.90" fill="none" stroke="#2f8c22" stroke-width="1.0"/>
<rect x="388.35" y="374.05" width="3.90" height="3.90" fill="none" stroke="#2f8c22" stroke-width="1.0"/>
<rect x="385.75" y="389.75" width="3.90" height="3.90" fill="none" stroke="#2f8c22" stroke-width="1.0"/>
<rect x="378.25" y="394.55" width="3.90" height="3.90" fill="none" stroke="#2f8c22" stroke-width="1.0"/>
<rect x="382.05" y="394.55" width="3.90" height="3.90" fill="none" stroke="#2f8c22" stroke-width="1.0"/>
<rect x="385.75" y="394.55" width="3.90" height="3.90" fill="none" stroke="#2f8c22" stroke-width="1.0"/>
<rect x="389.45" y="394.55" width="3.90" height="3.90" fill="none" stroke="#2f8c22" stroke-width="1.0"/>
<rect x="393.05" y="394.55" width="3.90" height="3.90" fill="none" stroke="#2f8c22" stroke-width="1.0"/>
<line x1="379.40" y1="384.50" x2="396.00" y2="384.50" stroke="#222" stroke-width="0.9"/>
<line x1="387.50" y1="366.90" x2="387.50" y2="396.50" stroke="#222" stroke-width="0.9"/>
<line x1="383.40" y1="366.50" x2="392.00" y2="366.50" stroke="#222" stroke-width="0.9"/>
<line x1="383.40" y1="396.50" x2="392.00" y2="396.50" stroke="#222" stroke-width="0.9"/>
<text x="387.70" y="341.35" font-size="6.8" font-weight="bold" text-anchor="middle" fill="#2f8c22">76</text>
<path d="M413.30,343.50 L415.40,347.38 L411.20,347.38 Z" fill="none" stroke="#2020f0" stroke-width="1.0" stroke-linejoin="miter"/>
<path d="M413.30,350.19 L415.40,354.08 L411.20,354.08 Z" fill="none" stroke="#2020f0" stroke-width="1.0" stroke-linejoin="miter"/>
<path d="M410.00,365.60 L412.10,369.48 L407.90,369.48 Z" fill="none" stroke="#2020f0" stroke-width="1.0" stroke-linejoin="miter"/>
<path d="M416.60,362.69 L418.70,366.58 L414.50,366.58 Z" fill="none" stroke="#2020f0" stroke-width="1.0" stroke-linejoin="miter"/>
<path d="M410.00,382.30 L412.10,386.18 L407.90,386.18 Z" fill="none" stroke="#2020f0" stroke-width="1.0" stroke-linejoin="miter"/>
<path d="M416.60,379.80 L418.70,383.68 L414.50,383.68 Z" fill="none" stroke="#2020f0" stroke-width="1.0" stroke-linejoin="miter"/>
<path d="M413.30,391.19 L415.40,395.08 L411.20,395.08 Z" fill="none" stroke="#2020f0" stroke-width="1.0" stroke-linejoin="miter"/>
<path d="M413.30,395.19 L415.40,399.08 L411.20,399.08 Z" fill="none" stroke="#2020f0" stroke-width="1.0" stroke-linejoin="miter"/>
<line x1="405.00" y1="373.50" x2="421.60" y2="373.50" stroke="#222" stroke-width="0.9"/>
<line x1="413.50" y1="354.70" x2="413.50" y2="392.10" stroke="#222" stroke-width="0.9"/>
<line x1="409.00" y1="354.50" x2="417.60" y2="354.50" stroke="#222" stroke-width="0.9"/>
<line x1="409.00" y1="392.50" x2="417.60" y2="392.50" stroke="#222" stroke-width="0.9"/>
<text x="413.30" y="338.05" font-size="6.8" font-weight="bold" text-anchor="middle" fill="#2020f0">145</text>
<line x1="413.50" y1="392.10" x2="413.50" y2="402.60" stroke="#222" stroke-width="0.9"/>
<line x1="362.50" y1="325.50" x2="412.90" y2="325.50" stroke="#222" stroke-width="1.0"/>
<text x="387.70" y="322.90" font-size="10.6" text-anchor="middle" fill="#222">ns</text>
<line x1="357.40" y1="407.50" x2="371.20" y2="407.50" stroke="#333" stroke-width="0.9"/>
<text x="387.70" y="409.88" font-size="6.6" text-anchor="middle" fill="#333">W11</text>
<line x1="404.60" y1="407.50" x2="418.40" y2="407.50" stroke="#333" stroke-width="0.9"/>
<line x1="488.90" y1="296.50" x2="494.90" y2="296.50" stroke="#222" stroke-width="1.0"/>
<text x="486.90" y="300.17" font-size="10.9" text-anchor="end" fill="#1a1a1a">10<tspan font-size="6.6" dx="1.0" dy="-3.27">5</tspan></text>
<line x1="488.90" y1="325.50" x2="494.90" y2="325.50" stroke="#222" stroke-width="1.0"/>
<text x="486.90" y="329.60" font-size="10.9" text-anchor="end" fill="#1a1a1a">10<tspan font-size="6.6" dx="1.0" dy="-3.27">4</tspan></text>
<line x1="488.90" y1="355.50" x2="494.90" y2="355.50" stroke="#222" stroke-width="1.0"/>
<text x="486.90" y="359.04" font-size="10.9" text-anchor="end" fill="#1a1a1a">10<tspan font-size="6.6" dx="1.0" dy="-3.27">3</tspan></text>
<line x1="488.90" y1="384.50" x2="494.90" y2="384.50" stroke="#222" stroke-width="1.0"/>
<text x="486.90" y="388.47" font-size="10.9" text-anchor="end" fill="#1a1a1a">10<tspan font-size="6.6" dx="1.0" dy="-3.27">2</tspan></text>
<text transform="translate(462.40,341.90) rotate(-90)" font-size="10.4" text-anchor="middle" fill="#1a1a1a">ID<tspan font-size="6.45" dy="2.91">50</tspan><tspan dy="-2.91"> titer</tspan></text>
<line x1="494.50" y1="295.80" x2="494.50" y2="396.10" stroke="#222" stroke-width="1.0"/>
<line x1="494.40" y1="396.50" x2="579.00" y2="396.50" stroke="#333" stroke-width="1.0"/>
<text x="534.80" y="279.30" font-size="7.85" text-anchor="middle" fill="#222">UKNP5.2.1 (Tier 1)</text>
<line x1="511.50" y1="396.10" x2="511.50" y2="402.60" stroke="#333" stroke-width="0.9"/>
<line x1="536.50" y1="396.10" x2="536.50" y2="399.10" stroke="#333" stroke-width="0.9"/>
<line x1="561.50" y1="396.10" x2="561.50" y2="402.60" stroke="#333" stroke-width="0.9"/>
<circle cx="511.10" cy="354.00" r="1.95" fill="none" stroke="#f41c1c" stroke-width="1.0"/>
<circle cx="511.10" cy="364.40" r="1.95" fill="none" stroke="#f41c1c" stroke-width="1.0"/>
<circle cx="507.60" cy="385.70" r="1.95" fill="none" stroke="#f41c1c" stroke-width="1.0"/>
<circle cx="514.30" cy="385.20" r="1.95" fill="none" stroke="#f41c1c" stroke-width="1.0"/>
<circle cx="511.10" cy="389.70" r="1.95" fill="none" stroke="#f41c1c" stroke-width="1.0"/>
<circle cx="504.20" cy="396.10" r="1.95" fill="none" stroke="#f41c1c" stroke-width="1.0"/>
<circle cx="511.10" cy="396.10" r="1.95" fill="none" stroke="#f41c1c" stroke-width="1.0"/>
<circle cx="517.80" cy="396.10" r="1.95" fill="none" stroke="#f41c1c" stroke-width="1.0"/>
<line x1="502.70" y1="383.50" x2="519.50" y2="383.50" stroke="#222" stroke-width="0.9"/>
<line x1="511.50" y1="367.40" x2="511.50" y2="401.60" stroke="#222" stroke-width="0.9"/>
<line x1="506.80" y1="367.50" x2="515.40" y2="367.50" stroke="#222" stroke-width="0.9"/>
<line x1="506.80" y1="401.50" x2="515.40" y2="401.50" stroke="#222" stroke-width="0.9"/>
<text x="511.10" y="347.75" font-size="6.8" font-weight="bold" text-anchor="middle" fill="#f41c1c">59</text>
<rect x="534.45" y="318.85" width="3.90" height="3.90" fill="none" stroke="#2f8c22" stroke-width="1.0"/>
<rect x="534.45" y="342.75" width="3.90" height="3.90" fill="none" stroke="#2f8c22" stroke-width="1.0"/>
<rect x="534.45" y="360.95" width="3.90" height="3.90" fill="none" stroke="#2f8c22" stroke-width="1.0"/>
<rect x="530.95" y="368.35" width="3.90" height="3.90" fill="none" stroke="#2f8c22" stroke-width="1.0"/>
<rect x="537.65" y="371.35" width="3.90" height="3.90" fill="none" stroke="#2f8c22" stroke-width="1.0"/>
<rect x="534.45" y="381.05" width="3.90" height="3.90" fill="none" stroke="#2f8c22" stroke-width="1.0"/>
<rect x="530.95" y="393.65" width="3.90" height="3.90" fill="none" stroke="#2f8c22" stroke-width="1.0"/>
<rect x="537.65" y="393.65" width="3.90" height="3.90" fill="none" stroke="#2f8c22" stroke-width="1.0"/>
<line x1="528.10" y1="368.50" x2="544.70" y2="368.50" stroke="#222" stroke-width="0.9"/>
<line x1="536.50" y1="342.40" x2="536.50" y2="396.00" stroke="#222" stroke-width="0.9"/>
<line x1="532.10" y1="342.50" x2="540.70" y2="342.50" stroke="#222" stroke-width="0.9"/>
<line x1="532.10" y1="396.50" x2="540.70" y2="396.50" stroke="#222" stroke-width="0.9"/>
<text x="536.40" y="315.55" font-size="6.8" font-weight="bold" text-anchor="middle" fill="#2f8c22">286</text>
<path d="M558.20,325.00 L560.30,328.88 L556.10,328.88 Z" fill="none" stroke="#2020f0" stroke-width="1.0" stroke-linejoin="miter"/>
<path d="M565.00,324.69 L567.10,328.58 L562.90,328.58 Z" fill="none" stroke="#2020f0" stroke-width="1.0" stroke-linejoin="miter"/>
<path d="M561.50,347.30 L563.60,351.18 L559.40,351.18 Z" fill="none" stroke="#2020f0" stroke-width="1.0" stroke-linejoin="miter"/>
<path d="M561.50,357.80 L563.60,361.68 L559.40,361.68 Z" fill="none" stroke="#2020f0" stroke-width="1.0" stroke-linejoin="miter"/>
<path d="M561.50,368.10 L563.60,371.98 L559.40,371.98 Z" fill="none" stroke="#2020f0" stroke-width="1.0" stroke-linejoin="miter"/>
<path d="M558.20,371.80 L560.30,375.68 L556.10,375.68 Z" fill="none" stroke="#2020f0" stroke-width="1.0" stroke-linejoin="miter"/>
<path d="M565.00,374.10 L567.10,377.98 L562.90,377.98 Z" fill="none" stroke="#2020f0" stroke-width="1.0" stroke-linejoin="miter"/>
<path d="M561.50,393.90 L563.60,397.78 L559.40,397.78 Z" fill="none" stroke="#2020f0" stroke-width="1.0" stroke-linejoin="miter"/>
<line x1="553.20" y1="359.50" x2="569.80" y2="359.50" stroke="#222" stroke-width="0.9"/>
<line x1="561.50" y1="335.40" x2="561.50" y2="384.20" stroke="#222" stroke-width="0.9"/>
<line x1="557.20" y1="335.50" x2="565.80" y2="335.50" stroke="#222" stroke-width="0.9"/>
<line x1="557.20" y1="384.50" x2="565.80" y2="384.50" stroke="#222" stroke-width="0.9"/>
<text x="561.50" y="320.25" font-size="6.8" font-weight="bold" text-anchor="middle" fill="#2020f0">1030</text>
<line x1="511.10" y1="304.50" x2="560.90" y2="304.50" stroke="#222" stroke-width="1.0"/>
<text x="536.00" y="302.60" font-size="10.6" text-anchor="middle" fill="#222">ns</text>
<line x1="506.00" y1="407.50" x2="519.80" y2="407.50" stroke="#333" stroke-width="0.9"/>
<text x="536.40" y="409.88" font-size="6.6" text-anchor="middle" fill="#333">W11</text>
<line x1="552.80" y1="407.50" x2="566.60" y2="407.50" stroke="#333" stroke-width="0.9"/>
<text x="1.40" y="441.80" font-size="14.5" font-weight="bold" fill="#000">d</text>
<text x="23.40" y="442.00" font-size="9.15" fill="#111">HCV-1 sE1E2.Cut<tspan font-size="5.67" dy="2.75">1+2</tspan><tspan dy="-2.75">.SPYΔN dimer-induced NAb responses</tspan></text>
<text x="32.80" y="457.30" font-size="7.85" fill="#222">H77 (Genotype 1, Tier 2)</text>
<line x1="35.10" y1="471.50" x2="40.30" y2="471.50" stroke="#222" stroke-width="0.9"/>
<text x="33.30" y="474.57" font-size="9.2" text-anchor="end" fill="#1a1a1a">10<tspan font-size="5.6" dx="0.0" dy="-2.76">5</tspan></text>
<line x1="35.10" y1="491.50" x2="40.30" y2="491.50" stroke="#222" stroke-width="0.9"/>
<text x="33.30" y="494.77" font-size="9.2" text-anchor="end" fill="#1a1a1a">10<tspan font-size="5.6" dx="0.0" dy="-2.76">4</tspan></text>
<line x1="35.10" y1="511.50" x2="40.30" y2="511.50" stroke="#222" stroke-width="0.9"/>
<text x="33.30" y="514.97" font-size="9.2" text-anchor="end" fill="#1a1a1a">10<tspan font-size="5.6" dx="0.0" dy="-2.76">3</tspan></text>
<line x1="35.10" y1="531.50" x2="40.30" y2="531.50" stroke="#222" stroke-width="0.9"/>
<text x="33.30" y="535.17" font-size="9.2" text-anchor="end" fill="#1a1a1a">10<tspan font-size="5.6" dx="0.0" dy="-2.76">2</tspan></text>
<text transform="translate(15.20,501.00) rotate(-90)" font-size="9.0" text-anchor="middle" fill="#1a1a1a">ID<tspan font-size="5.58" dy="2.52">50</tspan><tspan dy="-2.52"> titer</tspan></text>
<line x1="40.50" y1="470.80" x2="40.50" y2="539.80" stroke="#555" stroke-width="1.2"/>
<line x1="39.80" y1="539.80" x2="283.60" y2="539.80" stroke="#666" stroke-width="1.5"/>
<line x1="102.50" y1="472.00" x2="102.50" y2="538.00" stroke="#666" stroke-width="1.0" stroke-dasharray="1.3,1.3"/>
<line x1="161.50" y1="472.00" x2="161.50" y2="538.00" stroke="#666" stroke-width="1.0" stroke-dasharray="1.3,1.3"/>
<line x1="220.50" y1="472.00" x2="220.50" y2="538.00" stroke="#666" stroke-width="1.0" stroke-dasharray="1.3,1.3"/>
<line x1="52.50" y1="539.80" x2="52.50" y2="545.30" stroke="#333" stroke-width="0.8"/>
<line x1="72.50" y1="539.80" x2="72.50" y2="542.30" stroke="#333" stroke-width="0.8"/>
<line x1="92.50" y1="539.80" x2="92.50" y2="545.30" stroke="#333" stroke-width="0.8"/>
<line x1="112.50" y1="539.80" x2="112.50" y2="545.30" stroke="#333" stroke-width="0.8"/>
<line x1="131.50" y1="539.80" x2="131.50" y2="542.30" stroke="#333" stroke-width="0.8"/>
<line x1="151.50" y1="539.80" x2="151.50" y2="545.30" stroke="#333" stroke-width="0.8"/>
<line x1="171.50" y1="539.80" x2="171.50" y2="545.30" stroke="#333" stroke-width="0.8"/>
<line x1="190.50" y1="539.80" x2="190.50" y2="542.30" stroke="#333" stroke-width="0.8"/>
<line x1="210.50" y1="539.80" x2="210.50" y2="545.30" stroke="#333" stroke-width="0.8"/>
<line x1="230.50" y1="539.80" x2="230.50" y2="545.30" stroke="#333" stroke-width="0.8"/>
<line x1="250.50" y1="539.80" x2="250.50" y2="542.30" stroke="#333" stroke-width="0.8"/>
<line x1="269.50" y1="539.80" x2="269.50" y2="545.30" stroke="#333" stroke-width="0.8"/>
<line x1="50.10" y1="548.50" x2="57.70" y2="548.50" stroke="#333" stroke-width="1.1"/>
<text x="72.62" y="552.64" font-size="6.5" text-anchor="middle" fill="#333">W2</text>
<line x1="87.54" y1="548.50" x2="95.14" y2="548.50" stroke="#333" stroke-width="1.1"/>
<line x1="109.26" y1="548.50" x2="116.86" y2="548.50" stroke="#333" stroke-width="1.1"/>
<text x="131.78" y="552.64" font-size="6.5" text-anchor="middle" fill="#333">W5</text>
<line x1="146.70" y1="548.50" x2="154.30" y2="548.50" stroke="#333" stroke-width="1.1"/>
<line x1="168.42" y1="548.50" x2="176.02" y2="548.50" stroke="#333" stroke-width="1.1"/>
<text x="190.94" y="552.64" font-size="6.5" text-anchor="middle" fill="#333">W8</text>
<line x1="205.86" y1="548.50" x2="213.46" y2="548.50" stroke="#333" stroke-width="1.1"/>
<line x1="227.58" y1="548.50" x2="235.18" y2="548.50" stroke="#333" stroke-width="1.1"/>
<text x="250.10" y="552.64" font-size="6.5" text-anchor="middle" fill="#333">W11</text>
<line x1="265.02" y1="548.50" x2="272.62" y2="548.50" stroke="#333" stroke-width="1.1"/>
<circle cx="47.40" cy="539.80" r="1.56" fill="none" stroke="#f41c1c" stroke-width="1.0"/>
<circle cx="48.97" cy="539.80" r="1.56" fill="none" stroke="#f41c1c" stroke-width="1.0"/>
<circle cx="50.54" cy="539.80" r="1.56" fill="none" stroke="#f41c1c" stroke-width="1.0"/>
<circle cx="52.11" cy="539.80" r="1.56" fill="none" stroke="#f41c1c" stroke-width="1.0"/>
<circle cx="53.69" cy="539.80" r="1.56" fill="none" stroke="#f41c1c" stroke-width="1.0"/>
<circle cx="55.26" cy="539.80" r="1.56" fill="none" stroke="#f41c1c" stroke-width="1.0"/>
<circle cx="56.83" cy="539.80" r="1.56" fill="none" stroke="#f41c1c" stroke-width="1.0"/>
<circle cx="58.40" cy="539.80" r="1.56" fill="none" stroke="#f41c1c" stroke-width="1.0"/>
<rect x="65.56" y="538.24" width="3.12" height="3.12" fill="none" stroke="#2f8c22" stroke-width="1.0"/>
<rect x="67.13" y="538.24" width="3.12" height="3.12" fill="none" stroke="#2f8c22" stroke-width="1.0"/>
<rect x="68.70" y="538.24" width="3.12" height="3.12" fill="none" stroke="#2f8c22" stroke-width="1.0"/>
<rect x="70.27" y="538.24" width="3.12" height="3.12" fill="none" stroke="#2f8c22" stroke-width="1.0"/>
<rect x="71.85" y="538.24" width="3.12" height="3.12" fill="none" stroke="#2f8c22" stroke-width="1.0"/>
<rect x="73.42" y="538.24" width="3.12" height="3.12" fill="none" stroke="#2f8c22" stroke-width="1.0"/>
<rect x="74.99" y="538.24" width="3.12" height="3.12" fill="none" stroke="#2f8c22" stroke-width="1.0"/>
<rect x="76.56" y="538.24" width="3.12" height="3.12" fill="none" stroke="#2f8c22" stroke-width="1.0"/>
<path d="M86.84,538.04 L88.52,541.14 L85.16,541.14 Z" fill="none" stroke="#2020f0" stroke-width="1.0" stroke-linejoin="miter"/>
<path d="M88.41,538.04 L90.09,541.14 L86.73,541.14 Z" fill="none" stroke="#2020f0" stroke-width="1.0" stroke-linejoin="miter"/>
<path d="M89.98,538.04 L91.66,541.14 L88.30,541.14 Z" fill="none" stroke="#2020f0" stroke-width="1.0" stroke-linejoin="miter"/>
<path d="M91.55,538.04 L93.23,541.14 L89.87,541.14 Z" fill="none" stroke="#2020f0" stroke-width="1.0" stroke-linejoin="miter"/>
<path d="M93.13,538.04 L94.81,541.14 L91.45,541.14 Z" fill="none" stroke="#2020f0" stroke-width="1.0" stroke-linejoin="miter"/>
<path d="M94.70,538.04 L96.38,541.14 L93.02,541.14 Z" fill="none" stroke="#2020f0" stroke-width="1.0" stroke-linejoin="miter"/>
<path d="M96.27,538.04 L97.95,541.14 L94.59,541.14 Z" fill="none" stroke="#2020f0" stroke-width="1.0" stroke-linejoin="miter"/>
<path d="M97.84,538.04 L99.52,541.14 L96.16,541.14 Z" fill="none" stroke="#2020f0" stroke-width="1.0" stroke-linejoin="miter"/>
<circle cx="106.56" cy="539.80" r="1.56" fill="none" stroke="#f41c1c" stroke-width="1.0"/>
<circle cx="108.13" cy="539.80" r="1.56" fill="none" stroke="#f41c1c" stroke-width="1.0"/>
<circle cx="109.70" cy="539.80" r="1.56" fill="none" stroke="#f41c1c" stroke-width="1.0"/>
<circle cx="111.27" cy="539.80" r="1.56" fill="none" stroke="#f41c1c" stroke-width="1.0"/>
<circle cx="112.85" cy="539.80" r="1.56" fill="none" stroke="#f41c1c" stroke-width="1.0"/>
<circle cx="114.42" cy="539.80" r="1.56" fill="none" stroke="#f41c1c" stroke-width="1.0"/>
<circle cx="115.99" cy="539.80" r="1.56" fill="none" stroke="#f41c1c" stroke-width="1.0"/>
<circle cx="117.56" cy="539.80" r="1.56" fill="none" stroke="#f41c1c" stroke-width="1.0"/>
<circle cx="112.06" cy="535.60" r="1.56" fill="none" stroke="#f41c1c" stroke-width="1.0"/>
<line x1="108.06" y1="537.50" x2="116.06" y2="537.50" stroke="#222" stroke-width="0.9"/>
<text x="112.06" y="532.07" font-size="6.3" font-weight="bold" text-anchor="middle" fill="#f41c1c">18</text>
<rect x="124.72" y="538.24" width="3.12" height="3.12" fill="none" stroke="#2f8c22" stroke-width="1.0"/>
<rect x="126.29" y="538.24" width="3.12" height="3.12" fill="none" stroke="#2f8c22" stroke-width="1.0"/>
<rect x="127.86" y="538.24" width="3.12" height="3.12" fill="none" stroke="#2f8c22" stroke-width="1.0"/>
<rect x="129.43" y="538.24" width="3.12" height="3.12" fill="none" stroke="#2f8c22" stroke-width="1.0"/>
<rect x="131.01" y="538.24" width="3.12" height="3.12" fill="none" stroke="#2f8c22" stroke-width="1.0"/>
<rect x="132.58" y="538.24" width="3.12" height="3.12" fill="none" stroke="#2f8c22" stroke-width="1.0"/>
<rect x="134.15" y="538.24" width="3.12" height="3.12" fill="none" stroke="#2f8c22" stroke-width="1.0"/>
<rect x="135.72" y="538.24" width="3.12" height="3.12" fill="none" stroke="#2f8c22" stroke-width="1.0"/>
<rect x="130.22" y="535.94" width="3.12" height="3.12" fill="none" stroke="#2f8c22" stroke-width="1.0"/>
<text x="131.78" y="534.67" font-size="6.3" font-weight="bold" text-anchor="middle" fill="#2f8c22">19</text>
<path d="M146.00,538.04 L147.68,541.14 L144.32,541.14 Z" fill="none" stroke="#2020f0" stroke-width="1.0" stroke-linejoin="miter"/>
<path d="M147.57,538.04 L149.25,541.14 L145.89,541.14 Z" fill="none" stroke="#2020f0" stroke-width="1.0" stroke-linejoin="miter"/>
<path d="M149.14,538.04 L150.82,541.14 L147.46,541.14 Z" fill="none" stroke="#2020f0" stroke-width="1.0" stroke-linejoin="miter"/>
<path d="M150.71,538.04 L152.39,541.14 L149.03,541.14 Z" fill="none" stroke="#2020f0" stroke-width="1.0" stroke-linejoin="miter"/>
<path d="M152.29,538.04 L153.97,541.14 L150.61,541.14 Z" fill="none" stroke="#2020f0" stroke-width="1.0" stroke-linejoin="miter"/>
<path d="M153.86,538.04 L155.54,541.14 L152.18,541.14 Z" fill="none" stroke="#2020f0" stroke-width="1.0" stroke-linejoin="miter"/>
<path d="M155.43,538.04 L157.11,541.14 L153.75,541.14 Z" fill="none" stroke="#2020f0" stroke-width="1.0" stroke-linejoin="miter"/>
<path d="M157.00,538.04 L158.68,541.14 L155.32,541.14 Z" fill="none" stroke="#2020f0" stroke-width="1.0" stroke-linejoin="miter"/>
<path d="M151.50,534.14 L153.18,537.24 L149.82,537.24 Z" fill="none" stroke="#2020f0" stroke-width="1.0" stroke-linejoin="miter"/>
<line x1="147.50" y1="538.50" x2="155.50" y2="538.50" stroke="#222" stroke-width="0.9"/>
<text x="151.50" y="532.37" font-size="6.3" font-weight="bold" text-anchor="middle" fill="#2020f0">23</text>
<circle cx="174.82" cy="511.20" r="1.56" fill="none" stroke="#f41c1c" stroke-width="1.0"/>
<circle cx="167.72" cy="513.80" r="1.56" fill="none" stroke="#f41c1c" stroke-width="1.0"/>
<circle cx="174.82" cy="514.10" r="1.56" fill="none" stroke="#f41c1c" stroke-width="1.0"/>
<circle cx="167.72" cy="522.60" r="1.56" fill="none" stroke="#f41c1c" stroke-width="1.0"/>
<circle cx="174.82" cy="522.60" r="1.56" fill="none" stroke="#f41c1c" stroke-width="1.0"/>
<circle cx="167.72" cy="526.90" r="1.56" fill="none" stroke="#f41c1c" stroke-width="1.0"/>
<circle cx="174.82" cy="526.90" r="1.56" fill="none" stroke="#f41c1c" stroke-width="1.0"/>
<circle cx="171.22" cy="534.00" r="1.56" fill="none" stroke="#f41c1c" stroke-width="1.0"/>
<line x1="164.72" y1="521.50" x2="177.72" y2="521.50" stroke="#222" stroke-width="0.9"/>
<line x1="171.50" y1="512.90" x2="171.50" y2="529.20" stroke="#222" stroke-width="0.9"/>
<line x1="168.22" y1="512.50" x2="174.22" y2="512.50" stroke="#222" stroke-width="0.9"/>
<line x1="168.22" y1="529.50" x2="174.22" y2="529.50" stroke="#222" stroke-width="0.9"/>
<text x="171.22" y="509.07" font-size="6.3" font-weight="bold" text-anchor="middle" fill="#f41c1c">333</text>
<rect x="184.48" y="510.44" width="3.12" height="3.12" fill="none" stroke="#2f8c22" stroke-width="1.0"/>
<rect x="187.08" y="511.34" width="3.12" height="3.12" fill="none" stroke="#2f8c22" stroke-width="1.0"/>
<rect x="191.48" y="510.44" width="3.12" height="3.12" fill="none" stroke="#2f8c22" stroke-width="1.0"/>
<rect x="194.08" y="513.14" width="3.12" height="3.12" fill="none" stroke="#2f8c22" stroke-width="1.0"/>
<rect x="189.68" y="515.44" width="3.12" height="3.12" fill="none" stroke="#2f8c22" stroke-width="1.0"/>
<rect x="189.38" y="519.24" width="3.12" height="3.12" fill="none" stroke="#2f8c22" stroke-width="1.0"/>
<rect x="189.38" y="523.64" width="3.12" height="3.12" fill="none" stroke="#2f8c22" stroke-width="1.0"/>
<rect x="189.38" y="537.84" width="3.12" height="3.12" fill="none" stroke="#2f8c22" stroke-width="1.0"/>
<line x1="184.44" y1="519.50" x2="197.44" y2="519.50" stroke="#222" stroke-width="0.9"/>
<line x1="190.50" y1="510.30" x2="190.50" y2="528.30" stroke="#222" stroke-width="0.9"/>
<line x1="187.94" y1="510.50" x2="193.94" y2="510.50" stroke="#222" stroke-width="0.9"/>
<line x1="187.94" y1="528.50" x2="193.94" y2="528.50" stroke="#222" stroke-width="0.9"/>
<text x="190.94" y="505.17" font-size="6.3" font-weight="bold" text-anchor="middle" fill="#2f8c22">369</text>
<path d="M207.16,519.94 L208.84,523.04 L205.48,523.04 Z" fill="none" stroke="#2020f0" stroke-width="1.0" stroke-linejoin="miter"/>
<path d="M213.26,519.04 L214.94,522.14 L211.58,522.14 Z" fill="none" stroke="#2020f0" stroke-width="1.0" stroke-linejoin="miter"/>
<path d="M213.26,525.74 L214.94,528.84 L211.58,528.84 Z" fill="none" stroke="#2020f0" stroke-width="1.0" stroke-linejoin="miter"/>
<path d="M207.16,525.24 L208.84,528.34 L205.48,528.34 Z" fill="none" stroke="#2020f0" stroke-width="1.0" stroke-linejoin="miter"/>
<path d="M210.66,531.34 L212.34,534.44 L208.98,534.44 Z" fill="none" stroke="#2020f0" stroke-width="1.0" stroke-linejoin="miter"/>
<path d="M210.66,534.84 L212.34,537.94 L208.98,537.94 Z" fill="none" stroke="#2020f0" stroke-width="1.0" stroke-linejoin="miter"/>
<path d="M207.16,537.44 L208.84,540.54 L205.48,540.54 Z" fill="none" stroke="#2020f0" stroke-width="1.0" stroke-linejoin="miter"/>
<path d="M213.26,537.44 L214.94,540.54 L211.58,540.54 Z" fill="none" stroke="#2020f0" stroke-width="1.0" stroke-linejoin="miter"/>
<line x1="204.16" y1="530.50" x2="217.16" y2="530.50" stroke="#222" stroke-width="0.9"/>
<line x1="210.50" y1="523.10" x2="210.50" y2="539.00" stroke="#222" stroke-width="0.9"/>
<line x1="207.66" y1="523.50" x2="213.66" y2="523.50" stroke="#222" stroke-width="0.9"/>
<line x1="207.66" y1="539.50" x2="213.66" y2="539.50" stroke="#222" stroke-width="0.9"/>
<text x="210.66" y="515.67" font-size="6.3" font-weight="bold" text-anchor="middle" fill="#2020f0">101</text>
<circle cx="230.38" cy="499.80" r="1.56" fill="none" stroke="#f41c1c" stroke-width="1.0"/>
<circle cx="230.38" cy="503.30" r="1.56" fill="none" stroke="#f41c1c" stroke-width="1.0"/>
<circle cx="225.08" cy="518.20" r="1.56" fill="none" stroke="#f41c1c" stroke-width="1.0"/>
<circle cx="235.58" cy="515.90" r="1.56" fill="none" stroke="#f41c1c" stroke-width="1.0"/>
<circle cx="235.58" cy="518.20" r="1.56" fill="none" stroke="#f41c1c" stroke-width="1.0"/>
<circle cx="230.38" cy="522.20" r="1.56" fill="none" stroke="#f41c1c" stroke-width="1.0"/>
<circle cx="225.08" cy="527.00" r="1.56" fill="none" stroke="#f41c1c" stroke-width="1.0"/>
<circle cx="235.58" cy="524.70" r="1.56" fill="none" stroke="#f41c1c" stroke-width="1.0"/>
<line x1="223.88" y1="516.50" x2="236.88" y2="516.50" stroke="#222" stroke-width="0.9"/>
<line x1="230.50" y1="506.40" x2="230.50" y2="526.10" stroke="#222" stroke-width="0.9"/>
<line x1="227.38" y1="506.50" x2="233.38" y2="506.50" stroke="#222" stroke-width="0.9"/>
<line x1="227.38" y1="526.50" x2="233.38" y2="526.50" stroke="#222" stroke-width="0.9"/>
<text x="230.38" y="497.37" font-size="6.3" font-weight="bold" text-anchor="middle" fill="#f41c1c">589</text>
<rect x="248.54" y="504.34" width="3.12" height="3.12" fill="none" stroke="#2f8c22" stroke-width="1.0"/>
<rect x="248.54" y="507.84" width="3.12" height="3.12" fill="none" stroke="#2f8c22" stroke-width="1.0"/>
<rect x="243.84" y="513.64" width="3.12" height="3.12" fill="none" stroke="#2f8c22" stroke-width="1.0"/>
<rect x="253.84" y="514.84" width="3.12" height="3.12" fill="none" stroke="#2f8c22" stroke-width="1.0"/>
<rect x="248.54" y="514.84" width="3.12" height="3.12" fill="none" stroke="#2f8c22" stroke-width="1.0"/>
<rect x="248.54" y="517.54" width="3.12" height="3.12" fill="none" stroke="#2f8c22" stroke-width="1.0"/>
<rect x="245.94" y="523.14" width="3.12" height="3.12" fill="none" stroke="#2f8c22" stroke-width="1.0"/>
<rect x="251.24" y="522.74" width="3.12" height="3.12" fill="none" stroke="#2f8c22" stroke-width="1.0"/>
<line x1="243.60" y1="515.50" x2="256.60" y2="515.50" stroke="#222" stroke-width="0.9"/>
<line x1="250.50" y1="510.60" x2="250.50" y2="522.60" stroke="#222" stroke-width="0.9"/>
<line x1="247.10" y1="510.50" x2="253.10" y2="510.50" stroke="#222" stroke-width="0.9"/>
<line x1="247.10" y1="522.50" x2="253.10" y2="522.50" stroke="#222" stroke-width="0.9"/>
<text x="250.10" y="498.17" font-size="6.3" font-weight="bold" text-anchor="middle" fill="#2f8c22">570</text>
<path d="M269.82,513.44 L271.50,516.54 L268.14,516.54 Z" fill="none" stroke="#2020f0" stroke-width="1.0" stroke-linejoin="miter"/>
<path d="M267.02,527.84 L268.70,530.94 L265.34,530.94 Z" fill="none" stroke="#2020f0" stroke-width="1.0" stroke-linejoin="miter"/>
<path d="M272.82,527.84 L274.50,530.94 L271.14,530.94 Z" fill="none" stroke="#2020f0" stroke-width="1.0" stroke-linejoin="miter"/>
<path d="M267.02,533.04 L268.70,536.14 L265.34,536.14 Z" fill="none" stroke="#2020f0" stroke-width="1.0" stroke-linejoin="miter"/>
<path d="M272.82,533.04 L274.50,536.14 L271.14,536.14 Z" fill="none" stroke="#2020f0" stroke-width="1.0" stroke-linejoin="miter"/>
<path d="M269.82,521.64 L271.50,524.74 L268.14,524.74 Z" fill="none" stroke="#2020f0" stroke-width="1.0" stroke-linejoin="miter"/>
<path d="M269.82,529.24 L271.50,532.34 L268.14,532.34 Z" fill="none" stroke="#2020f0" stroke-width="1.0" stroke-linejoin="miter"/>
<path d="M269.82,534.24 L271.50,537.34 L268.14,537.34 Z" fill="none" stroke="#2020f0" stroke-width="1.0" stroke-linejoin="miter"/>
<line x1="263.32" y1="528.50" x2="276.32" y2="528.50" stroke="#222" stroke-width="0.9"/>
<line x1="269.50" y1="520.50" x2="269.50" y2="536.20" stroke="#222" stroke-width="0.9"/>
<line x1="266.82" y1="520.50" x2="272.82" y2="520.50" stroke="#222" stroke-width="0.9"/>
<line x1="266.82" y1="536.50" x2="272.82" y2="536.50" stroke="#222" stroke-width="0.9"/>
<text x="269.82" y="510.77" font-size="6.3" font-weight="bold" text-anchor="middle" fill="#2020f0">152</text>
<line x1="112.20" y1="522.50" x2="151.80" y2="522.50" stroke="#222" stroke-width="1.0"/>
<text x="132.00" y="520.10" font-size="9.7" text-anchor="middle" fill="#222">ns</text>
<line x1="191.20" y1="496.50" x2="211.70" y2="496.50" stroke="#222" stroke-width="0.9"/>
<text x="200.40" y="489.60" font-size="6.3" text-anchor="middle" fill="#222">0.0243</text>
<text x="201.70" y="496.00" font-size="6.5" font-weight="bold" text-anchor="middle" fill="#222">*</text>
<line x1="231.00" y1="485.50" x2="270.70" y2="485.50" stroke="#222" stroke-width="1.0"/>
<text x="250.85" y="483.70" font-size="9.7" text-anchor="middle" fill="#222">ns</text>
<text x="293.40" y="459.50" font-size="14.5" font-weight="bold" fill="#000">e</text>
<text x="316.50" y="456.90" font-size="7.85" fill="#222">Other genotypes (w11)</text>
<line x1="323.40" y1="471.50" x2="328.60" y2="471.50" stroke="#222" stroke-width="0.9"/>
<text x="321.60" y="474.37" font-size="9.2" text-anchor="end" fill="#1a1a1a">10<tspan font-size="5.6" dx="0.0" dy="-2.76">5</tspan></text>
<line x1="323.40" y1="491.50" x2="328.60" y2="491.50" stroke="#222" stroke-width="0.9"/>
<text x="321.60" y="494.47" font-size="9.2" text-anchor="end" fill="#1a1a1a">10<tspan font-size="5.6" dx="0.0" dy="-2.76">4</tspan></text>
<line x1="323.40" y1="511.50" x2="328.60" y2="511.50" stroke="#222" stroke-width="0.9"/>
<text x="321.60" y="514.57" font-size="9.2" text-anchor="end" fill="#1a1a1a">10<tspan font-size="5.6" dx="0.0" dy="-2.76">3</tspan></text>
<line x1="323.40" y1="531.50" x2="328.60" y2="531.50" stroke="#222" stroke-width="0.9"/>
<text x="321.60" y="534.67" font-size="9.2" text-anchor="end" fill="#1a1a1a">10<tspan font-size="5.6" dx="0.0" dy="-2.76">2</tspan></text>
<text transform="translate(302.50,501.00) rotate(-90)" font-size="9.0" text-anchor="middle" fill="#1a1a1a">ID<tspan font-size="5.58" dy="2.52">50</tspan><tspan dy="-2.52"> titer</tspan></text>
<line x1="328.50" y1="470.60" x2="328.50" y2="539.40" stroke="#222" stroke-width="0.9"/>
<line x1="328.10" y1="539.50" x2="570.00" y2="539.50" stroke="#222" stroke-width="1.0"/>
<line x1="390.50" y1="472.00" x2="390.50" y2="538.00" stroke="#666" stroke-width="1.0" stroke-dasharray="1.3,1.3"/>
<line x1="448.50" y1="472.00" x2="448.50" y2="538.00" stroke="#666" stroke-width="1.0" stroke-dasharray="1.3,1.3"/>
<line x1="507.50" y1="472.00" x2="507.50" y2="538.00" stroke="#666" stroke-width="1.0" stroke-dasharray="1.3,1.3"/>
<circle cx="335.30" cy="539.40" r="1.40" fill="none" stroke="#f41c1c" stroke-width="1.0"/>
<circle cx="337.01" cy="539.40" r="1.40" fill="none" stroke="#f41c1c" stroke-width="1.0"/>
<circle cx="338.73" cy="539.40" r="1.40" fill="none" stroke="#f41c1c" stroke-width="1.0"/>
<circle cx="340.44" cy="539.40" r="1.40" fill="none" stroke="#f41c1c" stroke-width="1.0"/>
<circle cx="342.16" cy="539.40" r="1.40" fill="none" stroke="#f41c1c" stroke-width="1.0"/>
<circle cx="343.87" cy="539.40" r="1.40" fill="none" stroke="#f41c1c" stroke-width="1.0"/>
<circle cx="345.59" cy="539.40" r="1.40" fill="none" stroke="#f41c1c" stroke-width="1.0"/>
<circle cx="347.30" cy="539.40" r="1.40" fill="none" stroke="#f41c1c" stroke-width="1.0"/>
<circle cx="341.30" cy="530.90" r="1.40" fill="none" stroke="#f41c1c" stroke-width="1.0"/>
<line x1="338.00" y1="534.50" x2="344.60" y2="534.50" stroke="#222" stroke-width="0.9"/>
<line x1="341.50" y1="534.40" x2="341.50" y2="539.40" stroke="#222" stroke-width="0.9"/>
<line x1="341.30" y1="534.50" x2="341.30" y2="534.50" stroke="#222" stroke-width="0.9"/>
<line x1="341.30" y1="539.50" x2="341.30" y2="539.50" stroke="#222" stroke-width="0.9"/>
<rect x="353.10" y="538.00" width="2.81" height="2.81" fill="none" stroke="#2f8c22" stroke-width="1.0"/>
<rect x="354.90" y="538.00" width="2.81" height="2.81" fill="none" stroke="#2f8c22" stroke-width="1.0"/>
<rect x="356.70" y="538.00" width="2.81" height="2.81" fill="none" stroke="#2f8c22" stroke-width="1.0"/>
<rect x="358.50" y="538.00" width="2.81" height="2.81" fill="none" stroke="#2f8c22" stroke-width="1.0"/>
<rect x="360.30" y="538.00" width="2.81" height="2.81" fill="none" stroke="#2f8c22" stroke-width="1.0"/>
<rect x="362.10" y="538.00" width="2.81" height="2.81" fill="none" stroke="#2f8c22" stroke-width="1.0"/>
<rect x="363.90" y="538.00" width="2.81" height="2.81" fill="none" stroke="#2f8c22" stroke-width="1.0"/>
<rect x="365.70" y="538.00" width="2.81" height="2.81" fill="none" stroke="#2f8c22" stroke-width="1.0"/>
<path d="M374.30,537.97 L375.66,540.49 L372.94,540.49 Z" fill="none" stroke="#2020f0" stroke-width="1.0" stroke-linejoin="miter"/>
<path d="M376.01,537.97 L377.38,540.49 L374.65,540.49 Z" fill="none" stroke="#2020f0" stroke-width="1.0" stroke-linejoin="miter"/>
<path d="M377.73,537.97 L379.09,540.49 L376.37,540.49 Z" fill="none" stroke="#2020f0" stroke-width="1.0" stroke-linejoin="miter"/>
<path d="M379.44,537.97 L380.80,540.49 L378.08,540.49 Z" fill="none" stroke="#2020f0" stroke-width="1.0" stroke-linejoin="miter"/>
<path d="M381.16,537.97 L382.52,540.49 L379.80,540.49 Z" fill="none" stroke="#2020f0" stroke-width="1.0" stroke-linejoin="miter"/>
<path d="M382.87,537.97 L384.23,540.49 L381.51,540.49 Z" fill="none" stroke="#2020f0" stroke-width="1.0" stroke-linejoin="miter"/>
<path d="M384.59,537.97 L385.95,540.49 L383.22,540.49 Z" fill="none" stroke="#2020f0" stroke-width="1.0" stroke-linejoin="miter"/>
<path d="M386.30,537.97 L387.66,540.49 L384.94,540.49 Z" fill="none" stroke="#2020f0" stroke-width="1.0" stroke-linejoin="miter"/>
<circle cx="399.80" cy="527.90" r="1.40" fill="none" stroke="#f41c1c" stroke-width="1.0"/>
<circle cx="399.80" cy="532.70" r="1.40" fill="none" stroke="#f41c1c" stroke-width="1.0"/>
<circle cx="393.30" cy="539.40" r="1.40" fill="none" stroke="#f41c1c" stroke-width="1.0"/>
<circle cx="395.90" cy="539.40" r="1.40" fill="none" stroke="#f41c1c" stroke-width="1.0"/>
<circle cx="398.50" cy="539.40" r="1.40" fill="none" stroke="#f41c1c" stroke-width="1.0"/>
<circle cx="401.10" cy="539.40" r="1.40" fill="none" stroke="#f41c1c" stroke-width="1.0"/>
<circle cx="403.70" cy="539.40" r="1.40" fill="none" stroke="#f41c1c" stroke-width="1.0"/>
<circle cx="406.30" cy="539.40" r="1.40" fill="none" stroke="#f41c1c" stroke-width="1.0"/>
<line x1="392.80" y1="536.50" x2="406.80" y2="536.50" stroke="#222" stroke-width="0.9"/>
<line x1="399.50" y1="532.70" x2="399.50" y2="539.40" stroke="#222" stroke-width="0.9"/>
<line x1="396.80" y1="532.50" x2="402.80" y2="532.50" stroke="#222" stroke-width="0.9"/>
<line x1="396.80" y1="539.50" x2="402.80" y2="539.50" stroke="#222" stroke-width="0.9"/>
<text x="399.80" y="523.46" font-size="6.0" font-weight="bold" text-anchor="middle" fill="#f41c1c">37</text>
<rect x="417.90" y="524.80" width="2.81" height="2.81" fill="none" stroke="#2f8c22" stroke-width="1.0"/>
<rect x="417.90" y="527.80" width="2.81" height="2.81" fill="none" stroke="#2f8c22" stroke-width="1.0"/>
<rect x="413.90" y="532.10" width="2.81" height="2.81" fill="none" stroke="#2f8c22" stroke-width="1.0"/>
<rect x="421.90" y="532.10" width="2.81" height="2.81" fill="none" stroke="#2f8c22" stroke-width="1.0"/>
<rect x="410.90" y="538.00" width="2.81" height="2.81" fill="none" stroke="#2f8c22" stroke-width="1.0"/>
<rect x="414.40" y="538.00" width="2.81" height="2.81" fill="none" stroke="#2f8c22" stroke-width="1.0"/>
<rect x="417.90" y="538.00" width="2.81" height="2.81" fill="none" stroke="#2f8c22" stroke-width="1.0"/>
<rect x="421.40" y="538.00" width="2.81" height="2.81" fill="none" stroke="#2f8c22" stroke-width="1.0"/>
<rect x="424.90" y="538.00" width="2.81" height="2.81" fill="none" stroke="#2f8c22" stroke-width="1.0"/>
<line x1="411.30" y1="535.50" x2="427.30" y2="535.50" stroke="#222" stroke-width="0.9"/>
<line x1="419.50" y1="529.20" x2="419.50" y2="539.40" stroke="#222" stroke-width="0.9"/>
<line x1="415.80" y1="529.50" x2="422.80" y2="529.50" stroke="#222" stroke-width="0.9"/>
<line x1="415.80" y1="539.50" x2="422.80" y2="539.50" stroke="#222" stroke-width="0.9"/>
<text x="419.30" y="521.16" font-size="6.0" font-weight="bold" text-anchor="middle" fill="#2f8c22">50</text>
<path d="M438.80,531.11 L440.31,533.91 L437.29,533.91 Z" fill="none" stroke="#2020f0" stroke-width="1.0" stroke-linejoin="miter"/>
<path d="M431.80,537.81 L433.31,540.61 L430.29,540.61 Z" fill="none" stroke="#2020f0" stroke-width="1.0" stroke-linejoin="miter"/>
<path d="M434.13,537.81 L435.65,540.61 L432.62,540.61 Z" fill="none" stroke="#2020f0" stroke-width="1.0" stroke-linejoin="miter"/>
<path d="M436.47,537.81 L437.98,540.61 L434.95,540.61 Z" fill="none" stroke="#2020f0" stroke-width="1.0" stroke-linejoin="miter"/>
<path d="M438.80,537.81 L440.31,540.61 L437.29,540.61 Z" fill="none" stroke="#2020f0" stroke-width="1.0" stroke-linejoin="miter"/>
<path d="M441.13,537.81 L442.65,540.61 L439.62,540.61 Z" fill="none" stroke="#2020f0" stroke-width="1.0" stroke-linejoin="miter"/>
<path d="M443.47,537.81 L444.98,540.61 L441.95,540.61 Z" fill="none" stroke="#2020f0" stroke-width="1.0" stroke-linejoin="miter"/>
<path d="M445.80,537.81 L447.31,540.61 L444.29,540.61 Z" fill="none" stroke="#2020f0" stroke-width="1.0" stroke-linejoin="miter"/>
<line x1="434.80" y1="535.50" x2="442.80" y2="535.50" stroke="#222" stroke-width="0.9"/>
<text x="438.80" y="527.26" font-size="6.0" font-weight="bold" text-anchor="middle" fill="#2020f0">24</text>
<circle cx="456.50" cy="528.30" r="1.40" fill="none" stroke="#f41c1c" stroke-width="1.0"/>
<circle cx="458.30" cy="528.80" r="1.40" fill="none" stroke="#f41c1c" stroke-width="1.0"/>
<circle cx="458.30" cy="536.10" r="1.40" fill="none" stroke="#f41c1c" stroke-width="1.0"/>
<circle cx="452.30" cy="539.40" r="1.40" fill="none" stroke="#f41c1c" stroke-width="1.0"/>
<circle cx="454.70" cy="539.40" r="1.40" fill="none" stroke="#f41c1c" stroke-width="1.0"/>
<circle cx="457.10" cy="539.40" r="1.40" fill="none" stroke="#f41c1c" stroke-width="1.0"/>
<circle cx="459.50" cy="539.40" r="1.40" fill="none" stroke="#f41c1c" stroke-width="1.0"/>
<circle cx="461.90" cy="539.40" r="1.40" fill="none" stroke="#f41c1c" stroke-width="1.0"/>
<circle cx="464.30" cy="539.40" r="1.40" fill="none" stroke="#f41c1c" stroke-width="1.0"/>
<line x1="451.30" y1="535.50" x2="465.30" y2="535.50" stroke="#222" stroke-width="0.9"/>
<line x1="458.50" y1="531.20" x2="458.50" y2="539.40" stroke="#222" stroke-width="0.9"/>
<line x1="455.30" y1="531.50" x2="461.30" y2="531.50" stroke="#222" stroke-width="0.9"/>
<line x1="455.30" y1="539.50" x2="461.30" y2="539.50" stroke="#222" stroke-width="0.9"/>
<text x="458.30" y="523.66" font-size="6.0" font-weight="bold" text-anchor="middle" fill="#f41c1c">52</text>
<rect x="473.60" y="517.80" width="2.81" height="2.81" fill="none" stroke="#2f8c22" stroke-width="1.0"/>
<rect x="479.10" y="517.40" width="2.81" height="2.81" fill="none" stroke="#2f8c22" stroke-width="1.0"/>
<rect x="473.60" y="530.20" width="2.81" height="2.81" fill="none" stroke="#2f8c22" stroke-width="1.0"/>
<rect x="479.10" y="530.20" width="2.81" height="2.81" fill="none" stroke="#2f8c22" stroke-width="1.0"/>
<rect x="476.40" y="534.70" width="2.81" height="2.81" fill="none" stroke="#2f8c22" stroke-width="1.0"/>
<rect x="469.90" y="538.00" width="2.81" height="2.81" fill="none" stroke="#2f8c22" stroke-width="1.0"/>
<rect x="474.23" y="538.00" width="2.81" height="2.81" fill="none" stroke="#2f8c22" stroke-width="1.0"/>
<rect x="478.56" y="538.00" width="2.81" height="2.81" fill="none" stroke="#2f8c22" stroke-width="1.0"/>
<rect x="482.90" y="538.00" width="2.81" height="2.81" fill="none" stroke="#2f8c22" stroke-width="1.0"/>
<line x1="470.80" y1="532.50" x2="484.80" y2="532.50" stroke="#222" stroke-width="0.9"/>
<line x1="477.50" y1="523.40" x2="477.50" y2="539.40" stroke="#222" stroke-width="0.9"/>
<line x1="474.80" y1="523.50" x2="480.80" y2="523.50" stroke="#222" stroke-width="0.9"/>
<line x1="474.80" y1="539.50" x2="480.80" y2="539.50" stroke="#222" stroke-width="0.9"/>
<text x="477.80" y="514.56" font-size="6.0" font-weight="bold" text-anchor="middle" fill="#2f8c22">56</text>
<path d="M491.30,537.97 L492.66,540.49 L489.94,540.49 Z" fill="none" stroke="#2020f0" stroke-width="1.0" stroke-linejoin="miter"/>
<path d="M493.01,537.97 L494.38,540.49 L491.65,540.49 Z" fill="none" stroke="#2020f0" stroke-width="1.0" stroke-linejoin="miter"/>
<path d="M494.73,537.97 L496.09,540.49 L493.37,540.49 Z" fill="none" stroke="#2020f0" stroke-width="1.0" stroke-linejoin="miter"/>
<path d="M496.44,537.97 L497.80,540.49 L495.08,540.49 Z" fill="none" stroke="#2020f0" stroke-width="1.0" stroke-linejoin="miter"/>
<path d="M498.16,537.97 L499.52,540.49 L496.80,540.49 Z" fill="none" stroke="#2020f0" stroke-width="1.0" stroke-linejoin="miter"/>
<path d="M499.87,537.97 L501.23,540.49 L498.51,540.49 Z" fill="none" stroke="#2020f0" stroke-width="1.0" stroke-linejoin="miter"/>
<path d="M501.59,537.97 L502.95,540.49 L500.22,540.49 Z" fill="none" stroke="#2020f0" stroke-width="1.0" stroke-linejoin="miter"/>
<path d="M503.30,537.97 L504.66,540.49 L501.94,540.49 Z" fill="none" stroke="#2020f0" stroke-width="1.0" stroke-linejoin="miter"/>
<text x="497.30" y="534.66" font-size="6.0" font-weight="bold" text-anchor="middle" fill="#2020f0">4</text>
<circle cx="516.80" cy="511.00" r="1.40" fill="none" stroke="#f41c1c" stroke-width="1.0"/>
<circle cx="516.80" cy="518.20" r="1.40" fill="none" stroke="#f41c1c" stroke-width="1.0"/>
<circle cx="514.40" cy="531.60" r="1.40" fill="none" stroke="#f41c1c" stroke-width="1.0"/>
<circle cx="519.90" cy="531.90" r="1.40" fill="none" stroke="#f41c1c" stroke-width="1.0"/>
<circle cx="516.80" cy="534.30" r="1.40" fill="none" stroke="#f41c1c" stroke-width="1.0"/>
<circle cx="511.30" cy="539.40" r="1.40" fill="none" stroke="#f41c1c" stroke-width="1.0"/>
<circle cx="516.80" cy="539.40" r="1.40" fill="none" stroke="#f41c1c" stroke-width="1.0"/>
<circle cx="522.30" cy="539.40" r="1.40" fill="none" stroke="#f41c1c" stroke-width="1.0"/>
<line x1="509.80" y1="531.50" x2="523.80" y2="531.50" stroke="#222" stroke-width="0.9"/>
<line x1="516.50" y1="520.30" x2="516.50" y2="539.40" stroke="#222" stroke-width="0.9"/>
<line x1="513.80" y1="520.50" x2="519.80" y2="520.50" stroke="#222" stroke-width="0.9"/>
<line x1="513.80" y1="539.50" x2="519.80" y2="539.50" stroke="#222" stroke-width="0.9"/>
<text x="516.80" y="505.96" font-size="6.0" font-weight="bold" text-anchor="middle" fill="#f41c1c">59</text>
<rect x="534.90" y="495.90" width="2.81" height="2.81" fill="none" stroke="#2f8c22" stroke-width="1.0"/>
<rect x="534.90" y="505.50" width="2.81" height="2.81" fill="none" stroke="#2f8c22" stroke-width="1.0"/>
<rect x="532.20" y="532.40" width="2.81" height="2.81" fill="none" stroke="#2f8c22" stroke-width="1.0"/>
<rect x="536.90" y="530.60" width="2.81" height="2.81" fill="none" stroke="#2f8c22" stroke-width="1.0"/>
<rect x="529.40" y="538.00" width="2.81" height="2.81" fill="none" stroke="#2f8c22" stroke-width="1.0"/>
<rect x="533.06" y="538.00" width="2.81" height="2.81" fill="none" stroke="#2f8c22" stroke-width="1.0"/>
<rect x="536.73" y="538.00" width="2.81" height="2.81" fill="none" stroke="#2f8c22" stroke-width="1.0"/>
<rect x="540.40" y="538.00" width="2.81" height="2.81" fill="none" stroke="#2f8c22" stroke-width="1.0"/>
<line x1="529.30" y1="528.50" x2="543.30" y2="528.50" stroke="#222" stroke-width="0.9"/>
<line x1="536.50" y1="511.50" x2="536.50" y2="539.40" stroke="#222" stroke-width="0.9"/>
<line x1="533.30" y1="511.50" x2="539.30" y2="511.50" stroke="#222" stroke-width="0.9"/>
<line x1="533.30" y1="539.50" x2="539.30" y2="539.50" stroke="#222" stroke-width="0.9"/>
<text x="536.30" y="494.16" font-size="6.0" font-weight="bold" text-anchor="middle" fill="#2f8c22">59</text>
<path d="M549.80,537.97 L551.16,540.49 L548.44,540.49 Z" fill="none" stroke="#2020f0" stroke-width="1.0" stroke-linejoin="miter"/>
<path d="M551.51,537.97 L552.88,540.49 L550.15,540.49 Z" fill="none" stroke="#2020f0" stroke-width="1.0" stroke-linejoin="miter"/>
<path d="M553.23,537.97 L554.59,540.49 L551.87,540.49 Z" fill="none" stroke="#2020f0" stroke-width="1.0" stroke-linejoin="miter"/>
<path d="M554.94,537.97 L556.30,540.49 L553.58,540.49 Z" fill="none" stroke="#2020f0" stroke-width="1.0" stroke-linejoin="miter"/>
<path d="M556.66,537.97 L558.02,540.49 L555.30,540.49 Z" fill="none" stroke="#2020f0" stroke-width="1.0" stroke-linejoin="miter"/>
<path d="M558.37,537.97 L559.73,540.49 L557.01,540.49 Z" fill="none" stroke="#2020f0" stroke-width="1.0" stroke-linejoin="miter"/>
<path d="M560.09,537.97 L561.45,540.49 L558.72,540.49 Z" fill="none" stroke="#2020f0" stroke-width="1.0" stroke-linejoin="miter"/>
<path d="M561.80,537.97 L563.16,540.49 L560.44,540.49 Z" fill="none" stroke="#2020f0" stroke-width="1.0" stroke-linejoin="miter"/>
<text x="555.80" y="535.16" font-size="6.0" font-weight="bold" text-anchor="middle" fill="#2020f0">3</text>
<line x1="400.10" y1="510.50" x2="439.00" y2="510.50" stroke="#222" stroke-width="1.0"/>
<text x="419.55" y="509.00" font-size="9.7" text-anchor="middle" fill="#222">ns</text>
<line x1="459.10" y1="506.50" x2="498.40" y2="506.50" stroke="#222" stroke-width="1.0"/>
<text x="478.75" y="504.60" font-size="9.7" text-anchor="middle" fill="#222">ns</text>
<line x1="517.90" y1="485.50" x2="556.80" y2="485.50" stroke="#222" stroke-width="1.0"/>
<text x="537.35" y="484.10" font-size="9.7" text-anchor="middle" fill="#222">ns</text>
<text x="361.10" y="552.80" font-size="6.7" text-anchor="middle" fill="#222">UKNP3.1.2</text>
<text x="361.10" y="560.80" font-size="6.7" text-anchor="middle" fill="#222">(Tier 4)</text>
<text x="419.20" y="552.80" font-size="6.7" text-anchor="middle" fill="#222">UKNP4.2.2</text>
<text x="419.20" y="560.80" font-size="6.7" text-anchor="middle" fill="#222">(Tier 3)</text>
<text x="478.30" y="552.80" font-size="6.7" text-anchor="middle" fill="#222">ED43</text>
<text x="478.30" y="560.80" font-size="6.7" text-anchor="middle" fill="#222">(tier undefined)</text>
<text x="536.90" y="552.80" font-size="6.7" text-anchor="middle" fill="#222">UKNP5.2.1</text>
<text x="536.90" y="560.80" font-size="6.7" text-anchor="middle" fill="#222">(Tier 1)</text>
<rect x="511.40" y="433.40" width="172.10" height="33.50" fill="none" stroke="#555" stroke-width="0.7"/>
<circle cx="518.30" cy="439.10" r="0.88" fill="none" stroke="#f41c1c" stroke-width="0.6"/>
<text x="524.30" y="441.46" font-size="6.55" fill="#222">HCV-1 sE1E2.Cut<tspan font-size="4.45" dy="1.96">1+2</tspan><tspan dy="-1.96">.SPYΔN-His<tspan font-size="4" dy="1.8">6</tspan></tspan></text>
<rect x="517.42" y="449.52" width="1.75" height="1.75" fill="none" stroke="#2f8c22" stroke-width="0.6"/>
<text x="524.30" y="452.76" font-size="6.55" fill="#222">HCV-1 sE1E2.Cut<tspan font-size="4.45" dy="1.96">1+2</tspan><tspan dy="-1.96">.SPYΔN-His<tspan font-size="4" dy="1.8">6</tspan><tspan dy="-1.8"> (Kif-treated)</tspan></tspan></text>
<path d="M518.30,460.51 L519.25,462.26 L517.35,462.26 Z" fill="none" stroke="#2020f0" stroke-width="0.6" stroke-linejoin="miter"/>
<text x="524.30" y="463.86" font-size="6.55" fill="#222">HCV-1 sE1E2.Cut<tspan font-size="4.45" dy="1.96">1+2</tspan><tspan dy="-1.96">.SPYΔN-His<tspan font-size="4" dy="1.8">6</tspan><tspan dy="-1.8"> (Kif/endo F)</tspan></tspan></text>
<text x="1.00" y="585.30" font-size="14.5" font-weight="bold" fill="#000">f</text>
<text x="23.60" y="584.00" font-size="9.15" fill="#111">HCV-1 sE1E2.Cut<tspan font-size="5.67" dy="2.75">1+2</tspan><tspan dy="-2.75">.SPYΔN FR SApNP-induced NAb responses</tspan></text>
<text x="32.80" y="600.00" font-size="7.85" fill="#222">H77 (Genotype 1, Tier 2)</text>
<line x1="34.90" y1="613.50" x2="40.10" y2="613.50" stroke="#222" stroke-width="0.9"/>
<text x="33.10" y="617.07" font-size="9.2" text-anchor="end" fill="#1a1a1a">10<tspan font-size="5.6" dx="0.0" dy="-2.76">5</tspan></text>
<line x1="34.90" y1="633.50" x2="40.10" y2="633.50" stroke="#222" stroke-width="0.9"/>
<text x="33.10" y="636.93" font-size="9.2" text-anchor="end" fill="#1a1a1a">10<tspan font-size="5.6" dx="0.0" dy="-2.76">4</tspan></text>
<line x1="34.90" y1="653.50" x2="40.10" y2="653.50" stroke="#222" stroke-width="0.9"/>
<text x="33.10" y="656.80" font-size="9.2" text-anchor="end" fill="#1a1a1a">10<tspan font-size="5.6" dx="0.0" dy="-2.76">3</tspan></text>
<line x1="34.90" y1="673.50" x2="40.10" y2="673.50" stroke="#222" stroke-width="0.9"/>
<text x="33.10" y="676.67" font-size="9.2" text-anchor="end" fill="#1a1a1a">10<tspan font-size="5.6" dx="0.0" dy="-2.76">2</tspan></text>
<text transform="translate(14.20,644.00) rotate(-90)" font-size="9.0" text-anchor="middle" fill="#1a1a1a">ID<tspan font-size="5.58" dy="2.52">50</tspan><tspan dy="-2.52"> titer</tspan></text>
<line x1="40.10" y1="613.30" x2="40.10" y2="681.00" stroke="#666" stroke-width="1.4"/>
<line x1="39.60" y1="681.00" x2="283.40" y2="681.00" stroke="#777" stroke-width="1.6"/>
<line x1="103.50" y1="614.80" x2="103.50" y2="679.00" stroke="#666" stroke-width="1.0" stroke-dasharray="1.3,1.3"/>
<line x1="162.50" y1="614.80" x2="162.50" y2="679.00" stroke="#666" stroke-width="1.0" stroke-dasharray="1.3,1.3"/>
<line x1="221.50" y1="614.80" x2="221.50" y2="679.00" stroke="#666" stroke-width="1.0" stroke-dasharray="1.3,1.3"/>
<line x1="59.50" y1="681.00" x2="59.50" y2="683.50" stroke="#333" stroke-width="0.8"/>
<line x1="88.50" y1="681.00" x2="88.50" y2="683.50" stroke="#333" stroke-width="0.8"/>
<line x1="117.50" y1="681.00" x2="117.50" y2="683.50" stroke="#333" stroke-width="0.8"/>
<line x1="147.50" y1="681.00" x2="147.50" y2="683.50" stroke="#333" stroke-width="0.8"/>
<line x1="176.50" y1="681.00" x2="176.50" y2="683.50" stroke="#333" stroke-width="0.8"/>
<line x1="205.50" y1="681.00" x2="205.50" y2="683.50" stroke="#333" stroke-width="0.8"/>
<line x1="234.50" y1="681.00" x2="234.50" y2="683.50" stroke="#333" stroke-width="0.8"/>
<line x1="263.50" y1="681.00" x2="263.50" y2="683.50" stroke="#333" stroke-width="0.8"/>
<line x1="52.70" y1="689.50" x2="57.70" y2="689.50" stroke="#333" stroke-width="1.3"/>
<line x1="90.30" y1="689.50" x2="95.30" y2="689.50" stroke="#333" stroke-width="1.3"/>
<text x="73.80" y="694.00" font-size="6.4" text-anchor="middle" fill="#333">W2</text>
<line x1="111.10" y1="689.50" x2="116.10" y2="689.50" stroke="#333" stroke-width="1.3"/>
<line x1="148.70" y1="689.50" x2="153.70" y2="689.50" stroke="#333" stroke-width="1.3"/>
<text x="132.20" y="694.00" font-size="6.4" text-anchor="middle" fill="#333">W5</text>
<line x1="169.50" y1="689.50" x2="174.50" y2="689.50" stroke="#333" stroke-width="1.3"/>
<line x1="207.10" y1="689.50" x2="212.10" y2="689.50" stroke="#333" stroke-width="1.3"/>
<text x="190.60" y="694.00" font-size="6.4" text-anchor="middle" fill="#333">W8</text>
<line x1="227.90" y1="689.50" x2="232.90" y2="689.50" stroke="#333" stroke-width="1.3"/>
<line x1="265.50" y1="689.50" x2="270.50" y2="689.50" stroke="#333" stroke-width="1.3"/>
<text x="249.00" y="694.00" font-size="6.4" text-anchor="middle" fill="#333">W11</text>
<circle cx="50.80" cy="681.00" r="1.66" fill="none" stroke="#ee6a2e" stroke-width="1.0"/>
<circle cx="53.23" cy="681.00" r="1.66" fill="none" stroke="#ee6a2e" stroke-width="1.0"/>
<circle cx="55.66" cy="681.00" r="1.66" fill="none" stroke="#ee6a2e" stroke-width="1.0"/>
<circle cx="58.09" cy="681.00" r="1.66" fill="none" stroke="#ee6a2e" stroke-width="1.0"/>
<circle cx="60.51" cy="681.00" r="1.66" fill="none" stroke="#ee6a2e" stroke-width="1.0"/>
<circle cx="62.94" cy="681.00" r="1.66" fill="none" stroke="#ee6a2e" stroke-width="1.0"/>
<circle cx="65.37" cy="681.00" r="1.66" fill="none" stroke="#ee6a2e" stroke-width="1.0"/>
<circle cx="67.80" cy="681.00" r="1.66" fill="none" stroke="#ee6a2e" stroke-width="1.0"/>
<circle cx="58.50" cy="677.10" r="1.66" fill="none" stroke="#ee6a2e" stroke-width="1.0"/>
<rect x="78.54" y="679.34" width="3.31" height="3.31" fill="none" stroke="#3b93a4" stroke-width="1.0"/>
<rect x="80.97" y="679.34" width="3.31" height="3.31" fill="none" stroke="#3b93a4" stroke-width="1.0"/>
<rect x="83.40" y="679.34" width="3.31" height="3.31" fill="none" stroke="#3b93a4" stroke-width="1.0"/>
<rect x="85.83" y="679.34" width="3.31" height="3.31" fill="none" stroke="#3b93a4" stroke-width="1.0"/>
<rect x="88.26" y="679.34" width="3.31" height="3.31" fill="none" stroke="#3b93a4" stroke-width="1.0"/>
<rect x="90.69" y="679.34" width="3.31" height="3.31" fill="none" stroke="#3b93a4" stroke-width="1.0"/>
<rect x="93.11" y="679.34" width="3.31" height="3.31" fill="none" stroke="#3b93a4" stroke-width="1.0"/>
<rect x="95.54" y="679.34" width="3.31" height="3.31" fill="none" stroke="#3b93a4" stroke-width="1.0"/>
<circle cx="117.70" cy="644.70" r="1.66" fill="none" stroke="#ee6a2e" stroke-width="1.0"/>
<circle cx="114.80" cy="651.70" r="1.66" fill="none" stroke="#ee6a2e" stroke-width="1.0"/>
<circle cx="109.70" cy="653.90" r="1.66" fill="none" stroke="#ee6a2e" stroke-width="1.0"/>
<circle cx="120.60" cy="654.60" r="1.66" fill="none" stroke="#ee6a2e" stroke-width="1.0"/>
<circle cx="114.80" cy="656.10" r="1.66" fill="none" stroke="#ee6a2e" stroke-width="1.0"/>
<circle cx="120.60" cy="657.50" r="1.66" fill="none" stroke="#ee6a2e" stroke-width="1.0"/>
<circle cx="126.50" cy="655.80" r="1.66" fill="none" stroke="#ee6a2e" stroke-width="1.0"/>
<circle cx="117.70" cy="664.60" r="1.66" fill="none" stroke="#ee6a2e" stroke-width="1.0"/>
<line x1="108.40" y1="655.50" x2="127.00" y2="655.50" stroke="#222" stroke-width="0.9"/>
<line x1="117.50" y1="649.20" x2="117.50" y2="660.50" stroke="#222" stroke-width="0.9"/>
<line x1="113.10" y1="649.50" x2="122.30" y2="649.50" stroke="#222" stroke-width="0.9"/>
<line x1="113.10" y1="660.50" x2="122.30" y2="660.50" stroke="#222" stroke-width="0.9"/>
<text x="117.70" y="640.64" font-size="6.5" font-weight="bold" text-anchor="middle" fill="#ee6a2e">817</text>
<rect x="145.44" y="651.24" width="3.31" height="3.31" fill="none" stroke="#3b93a4" stroke-width="1.0"/>
<rect x="140.34" y="653.74" width="3.31" height="3.31" fill="none" stroke="#3b93a4" stroke-width="1.0"/>
<rect x="145.44" y="655.64" width="3.31" height="3.31" fill="none" stroke="#3b93a4" stroke-width="1.0"/>
<rect x="145.44" y="658.04" width="3.31" height="3.31" fill="none" stroke="#3b93a4" stroke-width="1.0"/>
<rect x="145.44" y="661.04" width="3.31" height="3.31" fill="none" stroke="#3b93a4" stroke-width="1.0"/>
<rect x="140.34" y="661.74" width="3.31" height="3.31" fill="none" stroke="#3b93a4" stroke-width="1.0"/>
<rect x="140.34" y="664.64" width="3.31" height="3.31" fill="none" stroke="#3b93a4" stroke-width="1.0"/>
<rect x="151.34" y="663.94" width="3.31" height="3.31" fill="none" stroke="#3b93a4" stroke-width="1.0"/>
<line x1="137.80" y1="660.50" x2="156.40" y2="660.50" stroke="#222" stroke-width="0.9"/>
<line x1="147.50" y1="655.40" x2="147.50" y2="664.90" stroke="#222" stroke-width="0.9"/>
<line x1="142.50" y1="655.50" x2="151.70" y2="655.50" stroke="#222" stroke-width="0.9"/>
<line x1="142.50" y1="664.50" x2="151.70" y2="664.50" stroke="#222" stroke-width="0.9"/>
<text x="147.10" y="649.64" font-size="6.5" font-weight="bold" text-anchor="middle" fill="#3b93a4">436</text>
<circle cx="176.10" cy="639.70" r="1.66" fill="none" stroke="#ee6a2e" stroke-width="1.0"/>
<circle cx="176.10" cy="646.60" r="1.66" fill="none" stroke="#ee6a2e" stroke-width="1.0"/>
<circle cx="173.60" cy="651.40" r="1.66" fill="none" stroke="#ee6a2e" stroke-width="1.0"/>
<circle cx="178.70" cy="652.00" r="1.66" fill="none" stroke="#ee6a2e" stroke-width="1.0"/>
<circle cx="167.80" cy="653.90" r="1.66" fill="none" stroke="#ee6a2e" stroke-width="1.0"/>
<circle cx="184.60" cy="653.90" r="1.66" fill="none" stroke="#ee6a2e" stroke-width="1.0"/>
<circle cx="178.70" cy="656.10" r="1.66" fill="none" stroke="#ee6a2e" stroke-width="1.0"/>
<circle cx="173.60" cy="657.30" r="1.66" fill="none" stroke="#ee6a2e" stroke-width="1.0"/>
<line x1="166.80" y1="651.50" x2="185.40" y2="651.50" stroke="#222" stroke-width="0.9"/>
<line x1="176.50" y1="645.40" x2="176.50" y2="656.80" stroke="#222" stroke-width="0.9"/>
<line x1="171.50" y1="645.50" x2="180.70" y2="645.50" stroke="#222" stroke-width="0.9"/>
<line x1="171.50" y1="656.50" x2="180.70" y2="656.50" stroke="#222" stroke-width="0.9"/>
<text x="176.10" y="635.34" font-size="6.5" font-weight="bold" text-anchor="middle" fill="#ee6a2e">1253</text>
<rect x="203.84" y="639.14" width="3.31" height="3.31" fill="none" stroke="#3b93a4" stroke-width="1.0"/>
<rect x="201.04" y="642.04" width="3.31" height="3.31" fill="none" stroke="#3b93a4" stroke-width="1.0"/>
<rect x="206.94" y="644.54" width="3.31" height="3.31" fill="none" stroke="#3b93a4" stroke-width="1.0"/>
<rect x="195.54" y="653.24" width="3.31" height="3.31" fill="none" stroke="#3b93a4" stroke-width="1.0"/>
<rect x="212.34" y="654.14" width="3.31" height="3.31" fill="none" stroke="#3b93a4" stroke-width="1.0"/>
<rect x="201.04" y="655.94" width="3.31" height="3.31" fill="none" stroke="#3b93a4" stroke-width="1.0"/>
<rect x="206.94" y="656.14" width="3.31" height="3.31" fill="none" stroke="#3b93a4" stroke-width="1.0"/>
<rect x="203.84" y="660.24" width="3.31" height="3.31" fill="none" stroke="#3b93a4" stroke-width="1.0"/>
<line x1="196.20" y1="652.50" x2="214.80" y2="652.50" stroke="#222" stroke-width="0.9"/>
<line x1="205.50" y1="645.10" x2="205.50" y2="660.20" stroke="#222" stroke-width="0.9"/>
<line x1="200.90" y1="645.50" x2="210.10" y2="645.50" stroke="#222" stroke-width="0.9"/>
<line x1="200.90" y1="660.50" x2="210.10" y2="660.50" stroke="#222" stroke-width="0.9"/>
<text x="205.50" y="636.94" font-size="6.5" font-weight="bold" text-anchor="middle" fill="#3b93a4">1106</text>
<circle cx="234.50" cy="643.00" r="1.66" fill="none" stroke="#ee6a2e" stroke-width="1.0"/>
<circle cx="228.90" cy="652.90" r="1.66" fill="none" stroke="#ee6a2e" stroke-width="1.0"/>
<circle cx="234.50" cy="651.40" r="1.66" fill="none" stroke="#ee6a2e" stroke-width="1.0"/>
<circle cx="239.90" cy="652.40" r="1.66" fill="none" stroke="#ee6a2e" stroke-width="1.0"/>
<circle cx="234.50" cy="656.40" r="1.66" fill="none" stroke="#ee6a2e" stroke-width="1.0"/>
<circle cx="231.80" cy="660.50" r="1.66" fill="none" stroke="#ee6a2e" stroke-width="1.0"/>
<circle cx="236.90" cy="660.50" r="1.66" fill="none" stroke="#ee6a2e" stroke-width="1.0"/>
<circle cx="234.50" cy="664.90" r="1.66" fill="none" stroke="#ee6a2e" stroke-width="1.0"/>
<line x1="225.20" y1="655.50" x2="243.80" y2="655.50" stroke="#222" stroke-width="0.9"/>
<line x1="234.50" y1="648.40" x2="234.50" y2="662.20" stroke="#222" stroke-width="0.9"/>
<line x1="229.90" y1="648.50" x2="239.10" y2="648.50" stroke="#222" stroke-width="0.9"/>
<line x1="229.90" y1="662.50" x2="239.10" y2="662.50" stroke="#222" stroke-width="0.9"/>
<text x="234.50" y="638.34" font-size="6.5" font-weight="bold" text-anchor="middle" fill="#ee6a2e">798</text>
<rect x="262.24" y="642.04" width="3.31" height="3.31" fill="none" stroke="#3b93a4" stroke-width="1.0"/>
<rect x="262.24" y="647.84" width="3.31" height="3.31" fill="none" stroke="#3b93a4" stroke-width="1.0"/>
<rect x="262.24" y="652.24" width="3.31" height="3.31" fill="none" stroke="#3b93a4" stroke-width="1.0"/>
<rect x="259.54" y="657.04" width="3.31" height="3.31" fill="none" stroke="#3b93a4" stroke-width="1.0"/>
<rect x="265.14" y="658.54" width="3.31" height="3.31" fill="none" stroke="#3b93a4" stroke-width="1.0"/>
<rect x="259.54" y="661.44" width="3.31" height="3.31" fill="none" stroke="#3b93a4" stroke-width="1.0"/>
<rect x="265.14" y="662.44" width="3.31" height="3.31" fill="none" stroke="#3b93a4" stroke-width="1.0"/>
<rect x="262.24" y="671.64" width="3.31" height="3.31" fill="none" stroke="#3b93a4" stroke-width="1.0"/>
<line x1="254.60" y1="658.50" x2="273.20" y2="658.50" stroke="#222" stroke-width="0.9"/>
<line x1="263.50" y1="648.80" x2="263.50" y2="667.50" stroke="#222" stroke-width="0.9"/>
<line x1="259.30" y1="648.50" x2="268.50" y2="648.50" stroke="#222" stroke-width="0.9"/>
<line x1="259.30" y1="667.50" x2="268.50" y2="667.50" stroke="#222" stroke-width="0.9"/>
<text x="263.90" y="638.74" font-size="6.5" font-weight="bold" text-anchor="middle" fill="#3b93a4">568</text>
<line x1="117.20" y1="628.50" x2="146.70" y2="628.50" stroke="#222" stroke-width="1.0"/>
<text x="131.95" y="626.20" font-size="9.2" text-anchor="middle" fill="#222">ns</text>
<line x1="176.20" y1="624.50" x2="205.90" y2="624.50" stroke="#222" stroke-width="1.0"/>
<text x="191.05" y="621.90" font-size="9.2" text-anchor="middle" fill="#222">ns</text>
<line x1="234.50" y1="628.50" x2="264.50" y2="628.50" stroke="#222" stroke-width="1.0"/>
<text x="249.50" y="626.90" font-size="9.2" text-anchor="middle" fill="#222">ns</text>
<text x="293.30" y="601.50" font-size="14.5" font-weight="bold" fill="#000">g</text>
<text x="316.50" y="599.90" font-size="7.85" fill="#222">Other genotypes (w11)</text>
<line x1="323.60" y1="613.50" x2="328.80" y2="613.50" stroke="#222" stroke-width="0.9"/>
<text x="321.80" y="617.07" font-size="9.2" text-anchor="end" fill="#1a1a1a">10<tspan font-size="5.6" dx="0.0" dy="-2.76">5</tspan></text>
<line x1="323.60" y1="633.50" x2="328.80" y2="633.50" stroke="#222" stroke-width="0.9"/>
<text x="321.80" y="636.73" font-size="9.2" text-anchor="end" fill="#1a1a1a">10<tspan font-size="5.6" dx="0.0" dy="-2.76">4</tspan></text>
<line x1="323.60" y1="653.50" x2="328.80" y2="653.50" stroke="#222" stroke-width="0.9"/>
<text x="321.80" y="656.40" font-size="9.2" text-anchor="end" fill="#1a1a1a">10<tspan font-size="5.6" dx="0.0" dy="-2.76">3</tspan></text>
<line x1="323.60" y1="672.50" x2="328.80" y2="672.50" stroke="#222" stroke-width="0.9"/>
<text x="321.80" y="676.07" font-size="9.2" text-anchor="end" fill="#1a1a1a">10<tspan font-size="5.6" dx="0.0" dy="-2.76">2</tspan></text>
<text transform="translate(302.80,644.00) rotate(-90)" font-size="9.0" text-anchor="middle" fill="#1a1a1a">ID<tspan font-size="5.58" dy="2.52">50</tspan><tspan dy="-2.52"> titer</tspan></text>
<line x1="328.50" y1="613.30" x2="328.50" y2="680.80" stroke="#222" stroke-width="0.9"/>
<line x1="328.30" y1="680.50" x2="572.30" y2="680.50" stroke="#222" stroke-width="1.0"/>
<line x1="391.50" y1="614.80" x2="391.50" y2="678.80" stroke="#666" stroke-width="1.0" stroke-dasharray="1.3,1.3"/>
<line x1="450.50" y1="614.80" x2="450.50" y2="678.80" stroke="#666" stroke-width="1.0" stroke-dasharray="1.3,1.3"/>
<line x1="508.50" y1="614.80" x2="508.50" y2="678.80" stroke="#666" stroke-width="1.0" stroke-dasharray="1.3,1.3"/>
<circle cx="347.60" cy="673.40" r="1.66" fill="none" stroke="#ee6a2e" stroke-width="1.0"/>
<circle cx="342.40" cy="677.70" r="1.66" fill="none" stroke="#ee6a2e" stroke-width="1.0"/>
<circle cx="338.10" cy="680.80" r="1.66" fill="none" stroke="#ee6a2e" stroke-width="1.0"/>
<circle cx="341.27" cy="680.80" r="1.66" fill="none" stroke="#ee6a2e" stroke-width="1.0"/>
<circle cx="344.43" cy="680.80" r="1.66" fill="none" stroke="#ee6a2e" stroke-width="1.0"/>
<circle cx="347.60" cy="680.80" r="1.66" fill="none" stroke="#ee6a2e" stroke-width="1.0"/>
<circle cx="350.77" cy="680.80" r="1.66" fill="none" stroke="#ee6a2e" stroke-width="1.0"/>
<circle cx="353.93" cy="680.80" r="1.66" fill="none" stroke="#ee6a2e" stroke-width="1.0"/>
<circle cx="357.10" cy="680.80" r="1.66" fill="none" stroke="#ee6a2e" stroke-width="1.0"/>
<line x1="338.30" y1="677.50" x2="356.90" y2="677.50" stroke="#222" stroke-width="0.9"/>
<rect x="375.14" y="672.64" width="3.31" height="3.31" fill="none" stroke="#3b93a4" stroke-width="1.0"/>
<rect x="365.84" y="679.14" width="3.31" height="3.31" fill="none" stroke="#3b93a4" stroke-width="1.0"/>
<rect x="368.50" y="679.14" width="3.31" height="3.31" fill="none" stroke="#3b93a4" stroke-width="1.0"/>
<rect x="371.16" y="679.14" width="3.31" height="3.31" fill="none" stroke="#3b93a4" stroke-width="1.0"/>
<rect x="373.81" y="679.14" width="3.31" height="3.31" fill="none" stroke="#3b93a4" stroke-width="1.0"/>
<rect x="376.47" y="679.14" width="3.31" height="3.31" fill="none" stroke="#3b93a4" stroke-width="1.0"/>
<rect x="379.13" y="679.14" width="3.31" height="3.31" fill="none" stroke="#3b93a4" stroke-width="1.0"/>
<rect x="381.79" y="679.14" width="3.31" height="3.31" fill="none" stroke="#3b93a4" stroke-width="1.0"/>
<rect x="384.44" y="679.14" width="3.31" height="3.31" fill="none" stroke="#3b93a4" stroke-width="1.0"/>
<line x1="367.50" y1="677.50" x2="386.10" y2="677.50" stroke="#222" stroke-width="0.9"/>
<circle cx="406.10" cy="664.70" r="1.66" fill="none" stroke="#ee6a2e" stroke-width="1.0"/>
<circle cx="406.10" cy="675.20" r="1.66" fill="none" stroke="#ee6a2e" stroke-width="1.0"/>
<circle cx="402.10" cy="677.30" r="1.66" fill="none" stroke="#ee6a2e" stroke-width="1.0"/>
<circle cx="410.10" cy="676.40" r="1.66" fill="none" stroke="#ee6a2e" stroke-width="1.0"/>
<circle cx="397.60" cy="680.80" r="1.66" fill="none" stroke="#ee6a2e" stroke-width="1.0"/>
<circle cx="401.85" cy="680.80" r="1.66" fill="none" stroke="#ee6a2e" stroke-width="1.0"/>
<circle cx="406.10" cy="680.80" r="1.66" fill="none" stroke="#ee6a2e" stroke-width="1.0"/>
<circle cx="410.35" cy="680.80" r="1.66" fill="none" stroke="#ee6a2e" stroke-width="1.0"/>
<circle cx="414.60" cy="680.80" r="1.66" fill="none" stroke="#ee6a2e" stroke-width="1.0"/>
<line x1="396.80" y1="677.50" x2="415.40" y2="677.50" stroke="#222" stroke-width="0.9"/>
<line x1="406.50" y1="671.70" x2="406.50" y2="680.80" stroke="#222" stroke-width="0.9"/>
<line x1="401.50" y1="671.50" x2="410.70" y2="671.50" stroke="#222" stroke-width="0.9"/>
<line x1="401.50" y1="680.50" x2="410.70" y2="680.50" stroke="#222" stroke-width="0.9"/>
<text x="406.10" y="660.04" font-size="6.5" font-weight="bold" text-anchor="middle" fill="#ee6a2e">52</text>
<rect x="433.64" y="659.84" width="3.31" height="3.31" fill="none" stroke="#3b93a4" stroke-width="1.0"/>
<rect x="433.64" y="662.54" width="3.31" height="3.31" fill="none" stroke="#3b93a4" stroke-width="1.0"/>
<rect x="428.04" y="670.04" width="3.31" height="3.31" fill="none" stroke="#3b93a4" stroke-width="1.0"/>
<rect x="438.84" y="671.24" width="3.31" height="3.31" fill="none" stroke="#3b93a4" stroke-width="1.0"/>
<rect x="433.64" y="673.04" width="3.31" height="3.31" fill="none" stroke="#3b93a4" stroke-width="1.0"/>
<rect x="428.04" y="679.14" width="3.31" height="3.31" fill="none" stroke="#3b93a4" stroke-width="1.0"/>
<rect x="433.64" y="679.14" width="3.31" height="3.31" fill="none" stroke="#3b93a4" stroke-width="1.0"/>
<rect x="438.84" y="679.14" width="3.31" height="3.31" fill="none" stroke="#3b93a4" stroke-width="1.0"/>
<line x1="426.00" y1="672.50" x2="444.60" y2="672.50" stroke="#222" stroke-width="0.9"/>
<line x1="435.50" y1="666.30" x2="435.50" y2="680.80" stroke="#222" stroke-width="0.9"/>
<line x1="430.70" y1="666.50" x2="439.90" y2="666.50" stroke="#222" stroke-width="0.9"/>
<line x1="430.70" y1="680.50" x2="439.90" y2="680.50" stroke="#222" stroke-width="0.9"/>
<text x="435.30" y="657.74" font-size="6.5" font-weight="bold" text-anchor="middle" fill="#3b93a4">86</text>
<circle cx="464.60" cy="647.80" r="1.66" fill="none" stroke="#ee6a2e" stroke-width="1.0"/>
<circle cx="461.90" cy="666.60" r="1.66" fill="none" stroke="#ee6a2e" stroke-width="1.0"/>
<circle cx="467.30" cy="667.20" r="1.66" fill="none" stroke="#ee6a2e" stroke-width="1.0"/>
<circle cx="464.60" cy="677.60" r="1.66" fill="none" stroke="#ee6a2e" stroke-width="1.0"/>
<circle cx="456.40" cy="680.30" r="1.66" fill="none" stroke="#ee6a2e" stroke-width="1.0"/>
<circle cx="461.90" cy="680.30" r="1.66" fill="none" stroke="#ee6a2e" stroke-width="1.0"/>
<circle cx="467.30" cy="680.30" r="1.66" fill="none" stroke="#ee6a2e" stroke-width="1.0"/>
<circle cx="473.40" cy="680.30" r="1.66" fill="none" stroke="#ee6a2e" stroke-width="1.0"/>
<line x1="455.30" y1="672.50" x2="473.90" y2="672.50" stroke="#222" stroke-width="0.9"/>
<line x1="464.50" y1="660.80" x2="464.50" y2="684.90" stroke="#222" stroke-width="0.9"/>
<line x1="460.00" y1="660.50" x2="469.20" y2="660.50" stroke="#222" stroke-width="0.9"/>
<line x1="460.00" y1="684.50" x2="469.20" y2="684.50" stroke="#222" stroke-width="0.9"/>
<text x="464.60" y="643.34" font-size="6.5" font-weight="bold" text-anchor="middle" fill="#ee6a2e">76</text>
<rect x="492.14" y="655.24" width="3.31" height="3.31" fill="none" stroke="#3b93a4" stroke-width="1.0"/>
<rect x="497.64" y="657.64" width="3.31" height="3.31" fill="none" stroke="#3b93a4" stroke-width="1.0"/>
<rect x="492.14" y="660.34" width="3.31" height="3.31" fill="none" stroke="#3b93a4" stroke-width="1.0"/>
<rect x="492.14" y="672.24" width="3.31" height="3.31" fill="none" stroke="#3b93a4" stroke-width="1.0"/>
<rect x="486.64" y="673.54" width="3.31" height="3.31" fill="none" stroke="#3b93a4" stroke-width="1.0"/>
<rect x="497.24" y="674.94" width="3.31" height="3.31" fill="none" stroke="#3b93a4" stroke-width="1.0"/>
<rect x="489.34" y="678.64" width="3.31" height="3.31" fill="none" stroke="#3b93a4" stroke-width="1.0"/>
<rect x="494.84" y="678.64" width="3.31" height="3.31" fill="none" stroke="#3b93a4" stroke-width="1.0"/>
<line x1="484.50" y1="670.50" x2="503.10" y2="670.50" stroke="#222" stroke-width="0.9"/>
<line x1="493.50" y1="660.80" x2="493.50" y2="684.90" stroke="#222" stroke-width="0.9"/>
<line x1="489.20" y1="660.50" x2="498.40" y2="660.50" stroke="#222" stroke-width="0.9"/>
<line x1="489.20" y1="684.50" x2="498.40" y2="684.50" stroke="#222" stroke-width="0.9"/>
<text x="493.80" y="652.54" font-size="6.5" font-weight="bold" text-anchor="middle" fill="#3b93a4">123</text>
<circle cx="523.10" cy="629.60" r="1.66" fill="none" stroke="#ee6a2e" stroke-width="1.0"/>
<circle cx="523.10" cy="646.00" r="1.66" fill="none" stroke="#ee6a2e" stroke-width="1.0"/>
<circle cx="523.10" cy="658.40" r="1.66" fill="none" stroke="#ee6a2e" stroke-width="1.0"/>
<circle cx="520.40" cy="663.50" r="1.66" fill="none" stroke="#ee6a2e" stroke-width="1.0"/>
<circle cx="525.80" cy="665.10" r="1.66" fill="none" stroke="#ee6a2e" stroke-width="1.0"/>
<circle cx="523.10" cy="672.10" r="1.66" fill="none" stroke="#ee6a2e" stroke-width="1.0"/>
<circle cx="520.40" cy="680.30" r="1.66" fill="none" stroke="#ee6a2e" stroke-width="1.0"/>
<circle cx="525.80" cy="680.30" r="1.66" fill="none" stroke="#ee6a2e" stroke-width="1.0"/>
<line x1="513.80" y1="662.50" x2="532.40" y2="662.50" stroke="#222" stroke-width="0.9"/>
<line x1="523.50" y1="644.30" x2="523.50" y2="680.30" stroke="#222" stroke-width="0.9"/>
<line x1="518.50" y1="644.50" x2="527.70" y2="644.50" stroke="#222" stroke-width="0.9"/>
<line x1="518.50" y1="680.50" x2="527.70" y2="680.50" stroke="#222" stroke-width="0.9"/>
<text x="523.10" y="625.54" font-size="6.5" font-weight="bold" text-anchor="middle" fill="#ee6a2e">286</text>
<rect x="550.64" y="629.74" width="3.31" height="3.31" fill="none" stroke="#3b93a4" stroke-width="1.0"/>
<rect x="550.64" y="642.64" width="3.31" height="3.31" fill="none" stroke="#3b93a4" stroke-width="1.0"/>
<rect x="550.64" y="646.14" width="3.31" height="3.31" fill="none" stroke="#3b93a4" stroke-width="1.0"/>
<rect x="550.64" y="672.24" width="3.31" height="3.31" fill="none" stroke="#3b93a4" stroke-width="1.0"/>
<rect x="542.44" y="678.64" width="3.31" height="3.31" fill="none" stroke="#3b93a4" stroke-width="1.0"/>
<rect x="547.94" y="678.64" width="3.31" height="3.31" fill="none" stroke="#3b93a4" stroke-width="1.0"/>
<rect x="553.94" y="678.64" width="3.31" height="3.31" fill="none" stroke="#3b93a4" stroke-width="1.0"/>
<rect x="559.44" y="678.64" width="3.31" height="3.31" fill="none" stroke="#3b93a4" stroke-width="1.0"/>
<line x1="543.00" y1="665.50" x2="561.60" y2="665.50" stroke="#222" stroke-width="0.9"/>
<line x1="552.50" y1="644.30" x2="552.50" y2="680.30" stroke="#222" stroke-width="0.9"/>
<line x1="547.70" y1="644.50" x2="556.90" y2="644.50" stroke="#222" stroke-width="0.9"/>
<line x1="547.70" y1="680.50" x2="556.90" y2="680.50" stroke="#222" stroke-width="0.9"/>
<text x="552.30" y="626.04" font-size="6.5" font-weight="bold" text-anchor="middle" fill="#3b93a4">327</text>
<line x1="406.20" y1="644.50" x2="435.10" y2="644.50" stroke="#222" stroke-width="1.0"/>
<text x="420.65" y="641.90" font-size="9.4" text-anchor="middle" fill="#222">ns</text>
<line x1="464.60" y1="633.50" x2="493.80" y2="633.50" stroke="#222" stroke-width="1.0"/>
<text x="479.20" y="631.00" font-size="9.4" text-anchor="middle" fill="#222">ns</text>
<line x1="523.00" y1="616.50" x2="551.60" y2="616.50" stroke="#222" stroke-width="1.0"/>
<text x="537.30" y="614.20" font-size="9.4" text-anchor="middle" fill="#222">ns</text>
<text x="362.40" y="693.60" font-size="6.7" text-anchor="middle" fill="#222">UKNP3.1.2</text>
<text x="362.40" y="701.80" font-size="6.7" text-anchor="middle" fill="#222">(Tier 4)</text>
<text x="420.90" y="693.60" font-size="6.7" text-anchor="middle" fill="#222">UKNP4.2.2</text>
<text x="420.90" y="701.80" font-size="6.7" text-anchor="middle" fill="#222">(Tier 3)</text>
<text x="479.30" y="693.60" font-size="6.7" text-anchor="middle" fill="#222">ED43</text>
<text x="479.30" y="701.80" font-size="6.7" text-anchor="middle" fill="#222">(tier undefined)</text>
<text x="537.50" y="693.60" font-size="6.7" text-anchor="middle" fill="#222">UKNP5.2.1</text>
<text x="537.50" y="701.80" font-size="6.7" text-anchor="middle" fill="#222">(Tier 1)</text>
<rect x="495.40" y="573.90" width="187.80" height="24.40" fill="none" stroke="#555" stroke-width="0.7"/>
<circle cx="502.60" cy="581.10" r="0.88" fill="none" stroke="#ee6a2e" stroke-width="0.6"/>
<text x="508.00" y="583.46" font-size="6.55" fill="#222">HCV-1 sE1E2.Cut<tspan font-size="4.45" dy="1.96">1+2</tspan><tspan dy="-1.96">.SPYΔN-10GS-FR SApNP</tspan></text>
<rect x="501.72" y="590.92" width="1.75" height="1.75" fill="none" stroke="#3b93a4" stroke-width="0.6"/>
<text x="508.00" y="594.16" font-size="6.55" fill="#222">HCV-1 sE1E2.Cut<tspan font-size="4.45" dy="1.96">1+2</tspan><tspan dy="-1.96">.SPYΔN-10GS-FR SApNP (Kif-treated)</tspan></text>
<text x="1.00" y="720.30" font-size="14.5" font-weight="bold" fill="#000">h</text>
<text x="23.60" y="719.00" font-size="9.15" fill="#111">HCV-1 sE1E2.Cut<tspan font-size="5.67" dy="2.75">1+2</tspan><tspan dy="-2.75">.SPYΔN I3-01v9a SApNP-induced NAb responses</tspan></text>
<line x1="34.90" y1="748.50" x2="40.10" y2="748.50" stroke="#222" stroke-width="0.9"/>
<text x="33.10" y="752.07" font-size="9.2" text-anchor="end" fill="#1a1a1a">10<tspan font-size="5.6" dx="0.0" dy="-2.76">5</tspan></text>
<line x1="34.90" y1="768.50" x2="40.10" y2="768.50" stroke="#222" stroke-width="0.9"/>
<text x="33.10" y="771.93" font-size="9.2" text-anchor="end" fill="#1a1a1a">10<tspan font-size="5.6" dx="0.0" dy="-2.76">4</tspan></text>
<line x1="34.90" y1="788.50" x2="40.10" y2="788.50" stroke="#222" stroke-width="0.9"/>
<text x="33.10" y="791.80" font-size="9.2" text-anchor="end" fill="#1a1a1a">10<tspan font-size="5.6" dx="0.0" dy="-2.76">3</tspan></text>
<line x1="34.90" y1="808.50" x2="40.10" y2="808.50" stroke="#222" stroke-width="0.9"/>
<text x="33.10" y="811.67" font-size="9.2" text-anchor="end" fill="#1a1a1a">10<tspan font-size="5.6" dx="0.0" dy="-2.76">2</tspan></text>
<text transform="translate(14.20,779.00) rotate(-90)" font-size="9.0" text-anchor="middle" fill="#1a1a1a">ID<tspan font-size="5.58" dy="2.52">50</tspan><tspan dy="-2.52"> titer</tspan></text>
<line x1="40.10" y1="748.30" x2="40.10" y2="816.00" stroke="#666" stroke-width="1.4"/>
<line x1="39.60" y1="816.00" x2="283.40" y2="816.00" stroke="#777" stroke-width="1.6"/>
<line x1="103.50" y1="749.80" x2="103.50" y2="814.00" stroke="#666" stroke-width="1.0" stroke-dasharray="1.3,1.3"/>
<line x1="162.50" y1="749.80" x2="162.50" y2="814.00" stroke="#666" stroke-width="1.0" stroke-dasharray="1.3,1.3"/>
<line x1="221.50" y1="749.80" x2="221.50" y2="814.00" stroke="#666" stroke-width="1.0" stroke-dasharray="1.3,1.3"/>
<line x1="59.50" y1="816.00" x2="59.50" y2="818.50" stroke="#333" stroke-width="0.8"/>
<line x1="88.50" y1="816.00" x2="88.50" y2="818.50" stroke="#333" stroke-width="0.8"/>
<line x1="117.50" y1="816.00" x2="117.50" y2="818.50" stroke="#333" stroke-width="0.8"/>
<line x1="147.50" y1="816.00" x2="147.50" y2="818.50" stroke="#333" stroke-width="0.8"/>
<line x1="176.50" y1="816.00" x2="176.50" y2="818.50" stroke="#333" stroke-width="0.8"/>
<line x1="205.50" y1="816.00" x2="205.50" y2="818.50" stroke="#333" stroke-width="0.8"/>
<line x1="234.50" y1="816.00" x2="234.50" y2="818.50" stroke="#333" stroke-width="0.8"/>
<line x1="263.50" y1="816.00" x2="263.50" y2="818.50" stroke="#333" stroke-width="0.8"/>
<line x1="52.70" y1="824.50" x2="57.70" y2="824.50" stroke="#333" stroke-width="1.3"/>
<line x1="90.30" y1="824.50" x2="95.30" y2="824.50" stroke="#333" stroke-width="1.3"/>
<text x="73.80" y="829.00" font-size="6.4" text-anchor="middle" fill="#333">W2</text>
<line x1="111.10" y1="824.50" x2="116.10" y2="824.50" stroke="#333" stroke-width="1.3"/>
<line x1="148.70" y1="824.50" x2="153.70" y2="824.50" stroke="#333" stroke-width="1.3"/>
<text x="132.20" y="829.00" font-size="6.4" text-anchor="middle" fill="#333">W5</text>
<line x1="169.50" y1="824.50" x2="174.50" y2="824.50" stroke="#333" stroke-width="1.3"/>
<line x1="207.10" y1="824.50" x2="212.10" y2="824.50" stroke="#333" stroke-width="1.3"/>
<text x="190.60" y="829.00" font-size="6.4" text-anchor="middle" fill="#333">W8</text>
<line x1="227.90" y1="824.50" x2="232.90" y2="824.50" stroke="#333" stroke-width="1.3"/>
<line x1="265.50" y1="824.50" x2="270.50" y2="824.50" stroke="#333" stroke-width="1.3"/>
<text x="249.00" y="829.00" font-size="6.4" text-anchor="middle" fill="#333">W11</text>
<circle cx="50.80" cy="816.00" r="1.66" fill="none" stroke="#d2308a" stroke-width="1.0"/>
<circle cx="53.23" cy="816.00" r="1.66" fill="none" stroke="#d2308a" stroke-width="1.0"/>
<circle cx="55.66" cy="816.00" r="1.66" fill="none" stroke="#d2308a" stroke-width="1.0"/>
<circle cx="58.09" cy="816.00" r="1.66" fill="none" stroke="#d2308a" stroke-width="1.0"/>
<circle cx="60.51" cy="816.00" r="1.66" fill="none" stroke="#d2308a" stroke-width="1.0"/>
<circle cx="62.94" cy="816.00" r="1.66" fill="none" stroke="#d2308a" stroke-width="1.0"/>
<circle cx="65.37" cy="816.00" r="1.66" fill="none" stroke="#d2308a" stroke-width="1.0"/>
<circle cx="67.80" cy="816.00" r="1.66" fill="none" stroke="#d2308a" stroke-width="1.0"/>
<rect x="78.54" y="814.34" width="3.31" height="3.31" fill="none" stroke="#a67a30" stroke-width="1.0"/>
<rect x="80.97" y="814.34" width="3.31" height="3.31" fill="none" stroke="#a67a30" stroke-width="1.0"/>
<rect x="83.40" y="814.34" width="3.31" height="3.31" fill="none" stroke="#a67a30" stroke-width="1.0"/>
<rect x="85.83" y="814.34" width="3.31" height="3.31" fill="none" stroke="#a67a30" stroke-width="1.0"/>
<rect x="88.26" y="814.34" width="3.31" height="3.31" fill="none" stroke="#a67a30" stroke-width="1.0"/>
<rect x="90.69" y="814.34" width="3.31" height="3.31" fill="none" stroke="#a67a30" stroke-width="1.0"/>
<rect x="93.11" y="814.34" width="3.31" height="3.31" fill="none" stroke="#a67a30" stroke-width="1.0"/>
<rect x="95.54" y="814.34" width="3.31" height="3.31" fill="none" stroke="#a67a30" stroke-width="1.0"/>
<circle cx="117.70" cy="779.70" r="1.66" fill="none" stroke="#d2308a" stroke-width="1.0"/>
<circle cx="117.70" cy="787.40" r="1.66" fill="none" stroke="#d2308a" stroke-width="1.0"/>
<circle cx="114.80" cy="790.40" r="1.66" fill="none" stroke="#d2308a" stroke-width="1.0"/>
<circle cx="120.60" cy="790.40" r="1.66" fill="none" stroke="#d2308a" stroke-width="1.0"/>
<circle cx="114.80" cy="794.00" r="1.66" fill="none" stroke="#d2308a" stroke-width="1.0"/>
<circle cx="120.60" cy="793.70" r="1.66" fill="none" stroke="#d2308a" stroke-width="1.0"/>
<circle cx="114.80" cy="799.10" r="1.66" fill="none" stroke="#d2308a" stroke-width="1.0"/>
<circle cx="120.60" cy="797.70" r="1.66" fill="none" stroke="#d2308a" stroke-width="1.0"/>
<line x1="108.40" y1="791.50" x2="127.00" y2="791.50" stroke="#222" stroke-width="0.9"/>
<line x1="117.50" y1="785.70" x2="117.50" y2="798.40" stroke="#222" stroke-width="0.9"/>
<line x1="113.10" y1="785.50" x2="122.30" y2="785.50" stroke="#222" stroke-width="0.9"/>
<line x1="113.10" y1="798.50" x2="122.30" y2="798.50" stroke="#222" stroke-width="0.9"/>
<text x="117.70" y="776.94" font-size="6.5" font-weight="bold" text-anchor="middle" fill="#d2308a">670</text>
<rect x="148.34" y="780.34" width="3.31" height="3.31" fill="none" stroke="#a67a30" stroke-width="1.0"/>
<rect x="142.24" y="781.84" width="3.31" height="3.31" fill="none" stroke="#a67a30" stroke-width="1.0"/>
<rect x="148.34" y="785.34" width="3.31" height="3.31" fill="none" stroke="#a67a30" stroke-width="1.0"/>
<rect x="142.24" y="787.64" width="3.31" height="3.31" fill="none" stroke="#a67a30" stroke-width="1.0"/>
<rect x="137.14" y="794.54" width="3.31" height="3.31" fill="none" stroke="#a67a30" stroke-width="1.0"/>
<rect x="137.14" y="797.04" width="3.31" height="3.31" fill="none" stroke="#a67a30" stroke-width="1.0"/>
<rect x="148.34" y="796.44" width="3.31" height="3.31" fill="none" stroke="#a67a30" stroke-width="1.0"/>
<rect x="153.94" y="796.04" width="3.31" height="3.31" fill="none" stroke="#a67a30" stroke-width="1.0"/>
<line x1="137.80" y1="791.50" x2="156.40" y2="791.50" stroke="#222" stroke-width="0.9"/>
<line x1="147.50" y1="785.30" x2="147.50" y2="798.40" stroke="#222" stroke-width="0.9"/>
<line x1="142.50" y1="785.50" x2="151.70" y2="785.50" stroke="#222" stroke-width="0.9"/>
<line x1="142.50" y1="798.50" x2="151.70" y2="798.50" stroke="#222" stroke-width="0.9"/>
<text x="147.10" y="776.94" font-size="6.5" font-weight="bold" text-anchor="middle" fill="#a67a30">682</text>
<circle cx="178.70" cy="779.10" r="1.66" fill="none" stroke="#d2308a" stroke-width="1.0"/>
<circle cx="178.70" cy="782.30" r="1.66" fill="none" stroke="#d2308a" stroke-width="1.0"/>
<circle cx="173.60" cy="783.50" r="1.66" fill="none" stroke="#d2308a" stroke-width="1.0"/>
<circle cx="184.60" cy="781.60" r="1.66" fill="none" stroke="#d2308a" stroke-width="1.0"/>
<circle cx="167.80" cy="789.60" r="1.66" fill="none" stroke="#d2308a" stroke-width="1.0"/>
<circle cx="167.80" cy="792.60" r="1.66" fill="none" stroke="#d2308a" stroke-width="1.0"/>
<circle cx="178.70" cy="791.80" r="1.66" fill="none" stroke="#d2308a" stroke-width="1.0"/>
<circle cx="184.60" cy="791.10" r="1.66" fill="none" stroke="#d2308a" stroke-width="1.0"/>
<line x1="166.80" y1="786.50" x2="185.40" y2="786.50" stroke="#222" stroke-width="0.9"/>
<line x1="176.50" y1="781.30" x2="176.50" y2="791.80" stroke="#222" stroke-width="0.9"/>
<line x1="171.50" y1="781.50" x2="180.70" y2="781.50" stroke="#222" stroke-width="0.9"/>
<line x1="171.50" y1="791.50" x2="180.70" y2="791.50" stroke="#222" stroke-width="0.9"/>
<text x="176.10" y="776.94" font-size="6.5" font-weight="bold" text-anchor="middle" fill="#d2308a">1251</text>
<rect x="204.14" y="770.34" width="3.31" height="3.31" fill="none" stroke="#a67a30" stroke-width="1.0"/>
<rect x="204.14" y="778.54" width="3.31" height="3.31" fill="none" stroke="#a67a30" stroke-width="1.0"/>
<rect x="204.14" y="782.04" width="3.31" height="3.31" fill="none" stroke="#a67a30" stroke-width="1.0"/>
<rect x="198.54" y="786.74" width="3.31" height="3.31" fill="none" stroke="#a67a30" stroke-width="1.0"/>
<rect x="209.44" y="787.24" width="3.31" height="3.31" fill="none" stroke="#a67a30" stroke-width="1.0"/>
<rect x="204.14" y="791.44" width="3.31" height="3.31" fill="none" stroke="#a67a30" stroke-width="1.0"/>
<rect x="204.14" y="796.74" width="3.31" height="3.31" fill="none" stroke="#a67a30" stroke-width="1.0"/>
<line x1="196.20" y1="786.50" x2="214.80" y2="786.50" stroke="#222" stroke-width="0.9"/>
<line x1="205.50" y1="777.90" x2="205.50" y2="794.70" stroke="#222" stroke-width="0.9"/>
<line x1="200.90" y1="777.50" x2="210.10" y2="777.50" stroke="#222" stroke-width="0.9"/>
<line x1="200.90" y1="794.50" x2="210.10" y2="794.50" stroke="#222" stroke-width="0.9"/>
<text x="205.50" y="767.84" font-size="6.5" font-weight="bold" text-anchor="middle" fill="#a67a30">1275</text>
<circle cx="232.20" cy="779.10" r="1.66" fill="none" stroke="#d2308a" stroke-width="1.0"/>
<circle cx="238.00" cy="776.70" r="1.66" fill="none" stroke="#d2308a" stroke-width="1.0"/>
<circle cx="226.80" cy="793.50" r="1.66" fill="none" stroke="#d2308a" stroke-width="1.0"/>
<circle cx="238.00" cy="792.60" r="1.66" fill="none" stroke="#d2308a" stroke-width="1.0"/>
<circle cx="243.40" cy="793.10" r="1.66" fill="none" stroke="#d2308a" stroke-width="1.0"/>
<circle cx="234.50" cy="792.00" r="1.66" fill="none" stroke="#d2308a" stroke-width="1.0"/>
<circle cx="232.20" cy="805.20" r="1.66" fill="none" stroke="#d2308a" stroke-width="1.0"/>
<circle cx="238.00" cy="804.30" r="1.66" fill="none" stroke="#d2308a" stroke-width="1.0"/>
<line x1="225.20" y1="792.50" x2="243.80" y2="792.50" stroke="#222" stroke-width="0.9"/>
<line x1="234.50" y1="782.60" x2="234.50" y2="802.90" stroke="#222" stroke-width="0.9"/>
<line x1="229.90" y1="782.50" x2="239.10" y2="782.50" stroke="#222" stroke-width="0.9"/>
<line x1="229.90" y1="802.50" x2="239.10" y2="802.50" stroke="#222" stroke-width="0.9"/>
<text x="234.50" y="773.24" font-size="6.5" font-weight="bold" text-anchor="middle" fill="#d2308a">616</text>
<rect x="265.04" y="778.54" width="3.31" height="3.31" fill="none" stroke="#a67a30" stroke-width="1.0"/>
<rect x="259.24" y="781.64" width="3.31" height="3.31" fill="none" stroke="#a67a30" stroke-width="1.0"/>
<rect x="262.24" y="785.54" width="3.31" height="3.31" fill="none" stroke="#a67a30" stroke-width="1.0"/>
<rect x="259.24" y="791.44" width="3.31" height="3.31" fill="none" stroke="#a67a30" stroke-width="1.0"/>
<rect x="265.04" y="794.44" width="3.31" height="3.31" fill="none" stroke="#a67a30" stroke-width="1.0"/>
<rect x="259.24" y="798.44" width="3.31" height="3.31" fill="none" stroke="#a67a30" stroke-width="1.0"/>
<rect x="265.04" y="799.54" width="3.31" height="3.31" fill="none" stroke="#a67a30" stroke-width="1.0"/>
<rect x="262.24" y="807.04" width="3.31" height="3.31" fill="none" stroke="#a67a30" stroke-width="1.0"/>
<line x1="254.60" y1="794.50" x2="273.20" y2="794.50" stroke="#222" stroke-width="0.9"/>
<line x1="263.50" y1="784.40" x2="263.50" y2="803.60" stroke="#222" stroke-width="0.9"/>
<line x1="259.30" y1="784.50" x2="268.50" y2="784.50" stroke="#222" stroke-width="0.9"/>
<line x1="259.30" y1="803.50" x2="268.50" y2="803.50" stroke="#222" stroke-width="0.9"/>
<text x="263.90" y="776.24" font-size="6.5" font-weight="bold" text-anchor="middle" fill="#a67a30">527</text>
<line x1="117.20" y1="766.50" x2="146.70" y2="766.50" stroke="#222" stroke-width="1.0"/>
<text x="131.95" y="764.10" font-size="9.2" text-anchor="middle" fill="#222">ns</text>
<line x1="175.70" y1="759.50" x2="206.10" y2="759.50" stroke="#222" stroke-width="1.0"/>
<text x="190.90" y="757.00" font-size="9.2" text-anchor="middle" fill="#222">ns</text>
<line x1="234.60" y1="764.50" x2="264.50" y2="764.50" stroke="#222" stroke-width="1.0"/>
<text x="249.55" y="762.20" font-size="9.2" text-anchor="middle" fill="#222">ns</text>
<text x="295.70" y="737.70" font-size="14.5" font-weight="bold" fill="#000">i</text>
<text x="316.50" y="734.90" font-size="7.85" fill="#222">Other genotypes (w11)</text>
<line x1="323.60" y1="748.50" x2="328.80" y2="748.50" stroke="#222" stroke-width="0.9"/>
<text x="321.80" y="752.07" font-size="9.2" text-anchor="end" fill="#1a1a1a">10<tspan font-size="5.6" dx="0.0" dy="-2.76">5</tspan></text>
<line x1="323.60" y1="768.50" x2="328.80" y2="768.50" stroke="#222" stroke-width="0.9"/>
<text x="321.80" y="771.73" font-size="9.2" text-anchor="end" fill="#1a1a1a">10<tspan font-size="5.6" dx="0.0" dy="-2.76">4</tspan></text>
<line x1="323.60" y1="788.50" x2="328.80" y2="788.50" stroke="#222" stroke-width="0.9"/>
<text x="321.80" y="791.40" font-size="9.2" text-anchor="end" fill="#1a1a1a">10<tspan font-size="5.6" dx="0.0" dy="-2.76">3</tspan></text>
<line x1="323.60" y1="807.50" x2="328.80" y2="807.50" stroke="#222" stroke-width="0.9"/>
<text x="321.80" y="811.07" font-size="9.2" text-anchor="end" fill="#1a1a1a">10<tspan font-size="5.6" dx="0.0" dy="-2.76">2</tspan></text>
<text transform="translate(302.80,779.00) rotate(-90)" font-size="9.0" text-anchor="middle" fill="#1a1a1a">ID<tspan font-size="5.58" dy="2.52">50</tspan><tspan dy="-2.52"> titer</tspan></text>
<line x1="328.50" y1="748.30" x2="328.50" y2="815.80" stroke="#222" stroke-width="0.9"/>
<line x1="328.30" y1="815.50" x2="572.30" y2="815.50" stroke="#222" stroke-width="1.0"/>
<line x1="391.50" y1="749.80" x2="391.50" y2="813.80" stroke="#666" stroke-width="1.0" stroke-dasharray="1.3,1.3"/>
<line x1="450.50" y1="749.80" x2="450.50" y2="813.80" stroke="#666" stroke-width="1.0" stroke-dasharray="1.3,1.3"/>
<line x1="508.50" y1="749.80" x2="508.50" y2="813.80" stroke="#666" stroke-width="1.0" stroke-dasharray="1.3,1.3"/>
<circle cx="347.60" cy="812.30" r="1.66" fill="none" stroke="#d2308a" stroke-width="1.0"/>
<circle cx="338.10" cy="816.30" r="1.66" fill="none" stroke="#d2308a" stroke-width="1.0"/>
<circle cx="340.81" cy="816.30" r="1.66" fill="none" stroke="#d2308a" stroke-width="1.0"/>
<circle cx="343.53" cy="816.30" r="1.66" fill="none" stroke="#d2308a" stroke-width="1.0"/>
<circle cx="346.24" cy="816.30" r="1.66" fill="none" stroke="#d2308a" stroke-width="1.0"/>
<circle cx="348.96" cy="816.30" r="1.66" fill="none" stroke="#d2308a" stroke-width="1.0"/>
<circle cx="351.67" cy="816.30" r="1.66" fill="none" stroke="#d2308a" stroke-width="1.0"/>
<circle cx="354.39" cy="816.30" r="1.66" fill="none" stroke="#d2308a" stroke-width="1.0"/>
<circle cx="357.10" cy="816.30" r="1.66" fill="none" stroke="#d2308a" stroke-width="1.0"/>
<line x1="338.30" y1="814.50" x2="356.90" y2="814.50" stroke="#222" stroke-width="0.9"/>
<rect x="375.14" y="808.84" width="3.31" height="3.31" fill="none" stroke="#a67a30" stroke-width="1.0"/>
<rect x="365.84" y="814.64" width="3.31" height="3.31" fill="none" stroke="#a67a30" stroke-width="1.0"/>
<rect x="368.50" y="814.64" width="3.31" height="3.31" fill="none" stroke="#a67a30" stroke-width="1.0"/>
<rect x="371.16" y="814.64" width="3.31" height="3.31" fill="none" stroke="#a67a30" stroke-width="1.0"/>
<rect x="373.81" y="814.64" width="3.31" height="3.31" fill="none" stroke="#a67a30" stroke-width="1.0"/>
<rect x="376.47" y="814.64" width="3.31" height="3.31" fill="none" stroke="#a67a30" stroke-width="1.0"/>
<rect x="379.13" y="814.64" width="3.31" height="3.31" fill="none" stroke="#a67a30" stroke-width="1.0"/>
<rect x="381.79" y="814.64" width="3.31" height="3.31" fill="none" stroke="#a67a30" stroke-width="1.0"/>
<rect x="384.44" y="814.64" width="3.31" height="3.31" fill="none" stroke="#a67a30" stroke-width="1.0"/>
<line x1="367.50" y1="813.50" x2="386.10" y2="813.50" stroke="#222" stroke-width="0.9"/>
<circle cx="406.10" cy="793.90" r="1.66" fill="none" stroke="#d2308a" stroke-width="1.0"/>
<circle cx="406.10" cy="797.90" r="1.66" fill="none" stroke="#d2308a" stroke-width="1.0"/>
<circle cx="403.50" cy="806.70" r="1.66" fill="none" stroke="#d2308a" stroke-width="1.0"/>
<circle cx="409.60" cy="806.70" r="1.66" fill="none" stroke="#d2308a" stroke-width="1.0"/>
<circle cx="406.10" cy="809.70" r="1.66" fill="none" stroke="#d2308a" stroke-width="1.0"/>
<circle cx="400.80" cy="816.30" r="1.66" fill="none" stroke="#d2308a" stroke-width="1.0"/>
<circle cx="406.10" cy="816.30" r="1.66" fill="none" stroke="#d2308a" stroke-width="1.0"/>
<circle cx="411.40" cy="816.30" r="1.66" fill="none" stroke="#d2308a" stroke-width="1.0"/>
<line x1="396.80" y1="808.50" x2="415.40" y2="808.50" stroke="#222" stroke-width="0.9"/>
<line x1="406.50" y1="799.20" x2="406.50" y2="816.30" stroke="#222" stroke-width="0.9"/>
<line x1="401.50" y1="799.50" x2="410.70" y2="799.50" stroke="#222" stroke-width="0.9"/>
<line x1="401.50" y1="816.50" x2="410.70" y2="816.50" stroke="#222" stroke-width="0.9"/>
<text x="406.10" y="790.14" font-size="6.5" font-weight="bold" text-anchor="middle" fill="#d2308a">70</text>
<rect x="433.64" y="796.94" width="3.31" height="3.31" fill="none" stroke="#a67a30" stroke-width="1.0"/>
<rect x="433.64" y="806.24" width="3.31" height="3.31" fill="none" stroke="#a67a30" stroke-width="1.0"/>
<rect x="429.24" y="812.94" width="3.31" height="3.31" fill="none" stroke="#a67a30" stroke-width="1.0"/>
<rect x="438.04" y="810.34" width="3.31" height="3.31" fill="none" stroke="#a67a30" stroke-width="1.0"/>
<rect x="424.84" y="814.64" width="3.31" height="3.31" fill="none" stroke="#a67a30" stroke-width="1.0"/>
<rect x="433.64" y="814.64" width="3.31" height="3.31" fill="none" stroke="#a67a30" stroke-width="1.0"/>
<rect x="442.44" y="814.64" width="3.31" height="3.31" fill="none" stroke="#a67a30" stroke-width="1.0"/>
<line x1="426.00" y1="812.50" x2="444.60" y2="812.50" stroke="#222" stroke-width="0.9"/>
<line x1="435.50" y1="806.20" x2="435.50" y2="816.30" stroke="#222" stroke-width="0.9"/>
<line x1="430.70" y1="806.50" x2="439.90" y2="806.50" stroke="#222" stroke-width="0.9"/>
<line x1="430.70" y1="816.50" x2="439.90" y2="816.50" stroke="#222" stroke-width="0.9"/>
<text x="435.30" y="795.34" font-size="6.5" font-weight="bold" text-anchor="middle" fill="#a67a30">54</text>
<circle cx="464.60" cy="782.90" r="1.66" fill="none" stroke="#d2308a" stroke-width="1.0"/>
<circle cx="464.60" cy="787.10" r="1.66" fill="none" stroke="#d2308a" stroke-width="1.0"/>
<circle cx="467.30" cy="795.30" r="1.66" fill="none" stroke="#d2308a" stroke-width="1.0"/>
<circle cx="461.90" cy="797.10" r="1.66" fill="none" stroke="#d2308a" stroke-width="1.0"/>
<circle cx="467.30" cy="807.20" r="1.66" fill="none" stroke="#d2308a" stroke-width="1.0"/>
<circle cx="461.90" cy="808.40" r="1.66" fill="none" stroke="#d2308a" stroke-width="1.0"/>
<circle cx="467.30" cy="814.50" r="1.66" fill="none" stroke="#d2308a" stroke-width="1.0"/>
<circle cx="461.90" cy="816.30" r="1.66" fill="none" stroke="#d2308a" stroke-width="1.0"/>
<line x1="455.30" y1="801.50" x2="473.90" y2="801.50" stroke="#222" stroke-width="0.9"/>
<line x1="464.50" y1="788.40" x2="464.50" y2="813.40" stroke="#222" stroke-width="0.9"/>
<line x1="460.00" y1="788.50" x2="469.20" y2="788.50" stroke="#222" stroke-width="0.9"/>
<line x1="460.00" y1="813.50" x2="469.20" y2="813.50" stroke="#222" stroke-width="0.9"/>
<text x="464.60" y="778.44" font-size="6.5" font-weight="bold" text-anchor="middle" fill="#d2308a">145</text>
<rect x="492.14" y="787.94" width="3.31" height="3.31" fill="none" stroke="#a67a30" stroke-width="1.0"/>
<rect x="492.14" y="796.74" width="3.31" height="3.31" fill="none" stroke="#a67a30" stroke-width="1.0"/>
<rect x="492.14" y="810.44" width="3.31" height="3.31" fill="none" stroke="#a67a30" stroke-width="1.0"/>
<rect x="483.14" y="814.64" width="3.31" height="3.31" fill="none" stroke="#a67a30" stroke-width="1.0"/>
<rect x="487.64" y="814.64" width="3.31" height="3.31" fill="none" stroke="#a67a30" stroke-width="1.0"/>
<rect x="492.14" y="814.64" width="3.31" height="3.31" fill="none" stroke="#a67a30" stroke-width="1.0"/>
<rect x="496.64" y="814.64" width="3.31" height="3.31" fill="none" stroke="#a67a30" stroke-width="1.0"/>
<rect x="501.14" y="814.64" width="3.31" height="3.31" fill="none" stroke="#a67a30" stroke-width="1.0"/>
<line x1="484.50" y1="810.50" x2="503.10" y2="810.50" stroke="#222" stroke-width="0.9"/>
<line x1="493.50" y1="799.90" x2="493.50" y2="816.30" stroke="#222" stroke-width="0.9"/>
<line x1="489.20" y1="799.50" x2="498.40" y2="799.50" stroke="#222" stroke-width="0.9"/>
<line x1="489.20" y1="816.50" x2="498.40" y2="816.50" stroke="#222" stroke-width="0.9"/>
<text x="493.80" y="786.14" font-size="6.5" font-weight="bold" text-anchor="middle" fill="#a67a30">18</text>
<circle cx="520.40" cy="770.10" r="1.66" fill="none" stroke="#d2308a" stroke-width="1.0"/>
<circle cx="525.80" cy="769.20" r="1.66" fill="none" stroke="#d2308a" stroke-width="1.0"/>
<circle cx="523.10" cy="784.70" r="1.66" fill="none" stroke="#d2308a" stroke-width="1.0"/>
<circle cx="523.10" cy="792.40" r="1.66" fill="none" stroke="#d2308a" stroke-width="1.0"/>
<circle cx="525.80" cy="798.80" r="1.66" fill="none" stroke="#d2308a" stroke-width="1.0"/>
<circle cx="520.40" cy="801.70" r="1.66" fill="none" stroke="#d2308a" stroke-width="1.0"/>
<circle cx="525.80" cy="803.00" r="1.66" fill="none" stroke="#d2308a" stroke-width="1.0"/>
<circle cx="523.10" cy="816.30" r="1.66" fill="none" stroke="#d2308a" stroke-width="1.0"/>
<line x1="513.80" y1="792.50" x2="532.40" y2="792.50" stroke="#222" stroke-width="0.9"/>
<line x1="523.50" y1="775.60" x2="523.50" y2="808.40" stroke="#222" stroke-width="0.9"/>
<line x1="518.50" y1="775.50" x2="527.70" y2="775.50" stroke="#222" stroke-width="0.9"/>
<line x1="518.50" y1="808.50" x2="527.70" y2="808.50" stroke="#222" stroke-width="0.9"/>
<text x="523.10" y="766.44" font-size="6.5" font-weight="bold" text-anchor="middle" fill="#d2308a">1030</text>
<rect x="550.64" y="769.34" width="3.31" height="3.31" fill="none" stroke="#a67a30" stroke-width="1.0"/>
<rect x="550.64" y="780.64" width="3.31" height="3.31" fill="none" stroke="#a67a30" stroke-width="1.0"/>
<rect x="550.64" y="798.24" width="3.31" height="3.31" fill="none" stroke="#a67a30" stroke-width="1.0"/>
<rect x="541.64" y="814.64" width="3.31" height="3.31" fill="none" stroke="#a67a30" stroke-width="1.0"/>
<rect x="546.14" y="814.64" width="3.31" height="3.31" fill="none" stroke="#a67a30" stroke-width="1.0"/>
<rect x="550.64" y="814.64" width="3.31" height="3.31" fill="none" stroke="#a67a30" stroke-width="1.0"/>
<rect x="555.14" y="814.64" width="3.31" height="3.31" fill="none" stroke="#a67a30" stroke-width="1.0"/>
<rect x="559.64" y="814.64" width="3.31" height="3.31" fill="none" stroke="#a67a30" stroke-width="1.0"/>
<line x1="543.00" y1="804.50" x2="561.60" y2="804.50" stroke="#222" stroke-width="0.9"/>
<line x1="552.50" y1="786.20" x2="552.50" y2="816.30" stroke="#222" stroke-width="0.9"/>
<line x1="547.70" y1="786.50" x2="556.90" y2="786.50" stroke="#222" stroke-width="0.9"/>
<line x1="547.70" y1="816.50" x2="556.90" y2="816.50" stroke="#222" stroke-width="0.9"/>
<text x="552.30" y="767.54" font-size="6.5" font-weight="bold" text-anchor="middle" fill="#a67a30">290</text>
<line x1="406.20" y1="780.50" x2="435.10" y2="780.50" stroke="#222" stroke-width="1.0"/>
<text x="420.65" y="777.80" font-size="9.4" text-anchor="middle" fill="#222">ns</text>
<line x1="464.60" y1="769.50" x2="493.80" y2="769.50" stroke="#222" stroke-width="1.0"/>
<text x="479.20" y="767.00" font-size="9.4" text-anchor="middle" fill="#222">ns</text>
<line x1="522.60" y1="757.50" x2="551.60" y2="757.50" stroke="#222" stroke-width="1.0"/>
<text x="537.10" y="754.60" font-size="9.4" text-anchor="middle" fill="#222">ns</text>
<text x="362.40" y="828.60" font-size="6.7" text-anchor="middle" fill="#222">UKNP3.1.2</text>
<text x="362.40" y="836.80" font-size="6.7" text-anchor="middle" fill="#222">(Tier 4)</text>
<text x="420.90" y="828.60" font-size="6.7" text-anchor="middle" fill="#222">UKNP4.2.2</text>
<text x="420.90" y="836.80" font-size="6.7" text-anchor="middle" fill="#222">(Tier 3)</text>
<text x="479.30" y="828.60" font-size="6.7" text-anchor="middle" fill="#222">ED43</text>
<text x="479.30" y="836.80" font-size="6.7" text-anchor="middle" fill="#222">(tier undefined)</text>
<text x="537.50" y="828.60" font-size="6.7" text-anchor="middle" fill="#222">UKNP5.2.1</text>
<text x="537.50" y="836.80" font-size="6.7" text-anchor="middle" fill="#222">(Tier 1)</text>
<rect x="468.60" y="712.50" width="215.70" height="24.30" fill="none" stroke="#555" stroke-width="0.7"/>
<circle cx="475.00" cy="718.60" r="0.88" fill="none" stroke="#d2308a" stroke-width="0.6"/>
<text x="480.40" y="720.96" font-size="6.55" fill="#222">HCV-1 sE1E2.Cut<tspan font-size="4.45" dy="1.96">1+2</tspan><tspan dy="-1.96">.SPYΔN-5GS-I3-01v9a-L7P SApNP</tspan></text>
<rect x="474.12" y="728.82" width="1.75" height="1.75" fill="none" stroke="#a67a30" stroke-width="0.6"/>
<text x="480.40" y="732.06" font-size="6.55" fill="#222">HCV-1 sE1E2.Cut<tspan font-size="4.45" dy="1.96">1+2</tspan><tspan dy="-1.96">.SPYΔN-5GS-I3-01v9a-L7P SApNP (Kif-treated)</tspan></text>
</svg></body></html>
